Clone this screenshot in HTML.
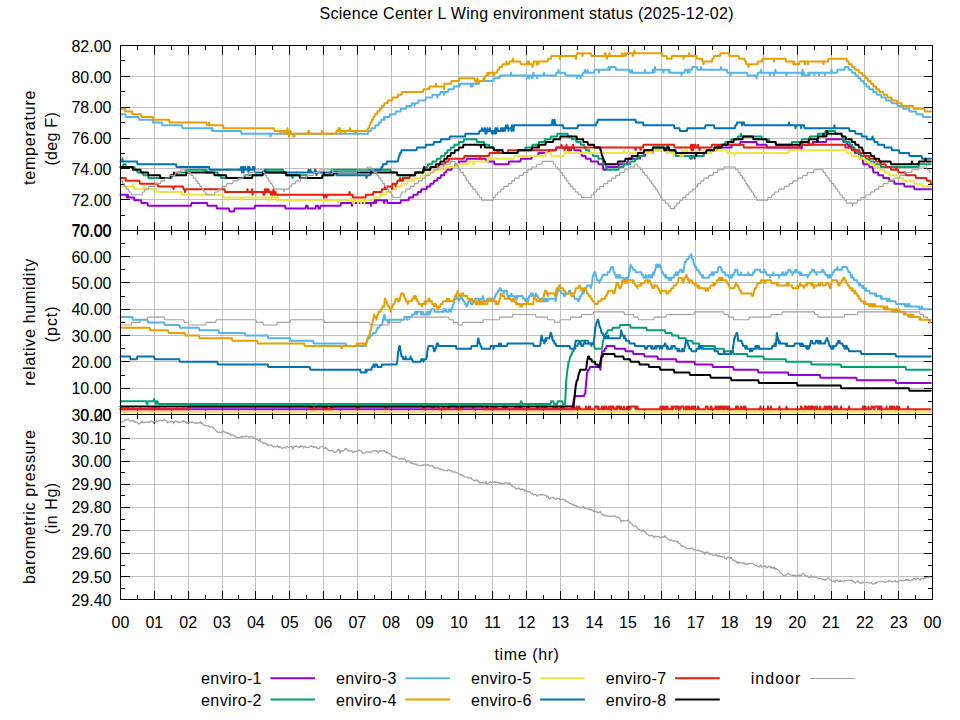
<!DOCTYPE html>
<html><head><meta charset="utf-8"><title>Science Center L Wing environment status</title>
<style>html,body{margin:0;padding:0;background:#fff;}svg{display:block;}</style></head>
<body>
<svg width="960" height="720" viewBox="0 0 960 720">
<rect width="960" height="720" fill="#ffffff"/>
<g shape-rendering="crispEdges" stroke="#bebebe" stroke-width="1" fill="none">
<line x1="154.5" y1="45.5" x2="154.5" y2="230.5"/>
<line x1="188.5" y1="45.5" x2="188.5" y2="230.5"/>
<line x1="222.5" y1="45.5" x2="222.5" y2="230.5"/>
<line x1="255.5" y1="45.5" x2="255.5" y2="230.5"/>
<line x1="289.5" y1="45.5" x2="289.5" y2="230.5"/>
<line x1="323.5" y1="45.5" x2="323.5" y2="230.5"/>
<line x1="357.5" y1="45.5" x2="357.5" y2="230.5"/>
<line x1="391.5" y1="45.5" x2="391.5" y2="230.5"/>
<line x1="425.5" y1="45.5" x2="425.5" y2="230.5"/>
<line x1="458.5" y1="45.5" x2="458.5" y2="230.5"/>
<line x1="492.5" y1="45.5" x2="492.5" y2="230.5"/>
<line x1="526.5" y1="45.5" x2="526.5" y2="230.5"/>
<line x1="560.5" y1="45.5" x2="560.5" y2="230.5"/>
<line x1="594.5" y1="45.5" x2="594.5" y2="230.5"/>
<line x1="628.5" y1="45.5" x2="628.5" y2="230.5"/>
<line x1="661.5" y1="45.5" x2="661.5" y2="230.5"/>
<line x1="695.5" y1="45.5" x2="695.5" y2="230.5"/>
<line x1="729.5" y1="45.5" x2="729.5" y2="230.5"/>
<line x1="763.5" y1="45.5" x2="763.5" y2="230.5"/>
<line x1="797.5" y1="45.5" x2="797.5" y2="230.5"/>
<line x1="831.5" y1="45.5" x2="831.5" y2="230.5"/>
<line x1="864.5" y1="45.5" x2="864.5" y2="230.5"/>
<line x1="898.5" y1="45.5" x2="898.5" y2="230.5"/>
<line x1="154.5" y1="230.5" x2="154.5" y2="414.5"/>
<line x1="188.5" y1="230.5" x2="188.5" y2="414.5"/>
<line x1="222.5" y1="230.5" x2="222.5" y2="414.5"/>
<line x1="255.5" y1="230.5" x2="255.5" y2="414.5"/>
<line x1="289.5" y1="230.5" x2="289.5" y2="414.5"/>
<line x1="323.5" y1="230.5" x2="323.5" y2="414.5"/>
<line x1="357.5" y1="230.5" x2="357.5" y2="414.5"/>
<line x1="391.5" y1="230.5" x2="391.5" y2="414.5"/>
<line x1="425.5" y1="230.5" x2="425.5" y2="414.5"/>
<line x1="458.5" y1="230.5" x2="458.5" y2="414.5"/>
<line x1="492.5" y1="230.5" x2="492.5" y2="414.5"/>
<line x1="526.5" y1="230.5" x2="526.5" y2="414.5"/>
<line x1="560.5" y1="230.5" x2="560.5" y2="414.5"/>
<line x1="594.5" y1="230.5" x2="594.5" y2="414.5"/>
<line x1="628.5" y1="230.5" x2="628.5" y2="414.5"/>
<line x1="661.5" y1="230.5" x2="661.5" y2="414.5"/>
<line x1="695.5" y1="230.5" x2="695.5" y2="414.5"/>
<line x1="729.5" y1="230.5" x2="729.5" y2="414.5"/>
<line x1="763.5" y1="230.5" x2="763.5" y2="414.5"/>
<line x1="797.5" y1="230.5" x2="797.5" y2="414.5"/>
<line x1="831.5" y1="230.5" x2="831.5" y2="414.5"/>
<line x1="864.5" y1="230.5" x2="864.5" y2="414.5"/>
<line x1="898.5" y1="230.5" x2="898.5" y2="414.5"/>
<line x1="154.5" y1="414.5" x2="154.5" y2="599.5"/>
<line x1="188.5" y1="414.5" x2="188.5" y2="599.5"/>
<line x1="222.5" y1="414.5" x2="222.5" y2="599.5"/>
<line x1="255.5" y1="414.5" x2="255.5" y2="599.5"/>
<line x1="289.5" y1="414.5" x2="289.5" y2="599.5"/>
<line x1="323.5" y1="414.5" x2="323.5" y2="599.5"/>
<line x1="357.5" y1="414.5" x2="357.5" y2="599.5"/>
<line x1="391.5" y1="414.5" x2="391.5" y2="599.5"/>
<line x1="425.5" y1="414.5" x2="425.5" y2="599.5"/>
<line x1="458.5" y1="414.5" x2="458.5" y2="599.5"/>
<line x1="492.5" y1="414.5" x2="492.5" y2="599.5"/>
<line x1="526.5" y1="414.5" x2="526.5" y2="599.5"/>
<line x1="560.5" y1="414.5" x2="560.5" y2="599.5"/>
<line x1="594.5" y1="414.5" x2="594.5" y2="599.5"/>
<line x1="628.5" y1="414.5" x2="628.5" y2="599.5"/>
<line x1="661.5" y1="414.5" x2="661.5" y2="599.5"/>
<line x1="695.5" y1="414.5" x2="695.5" y2="599.5"/>
<line x1="729.5" y1="414.5" x2="729.5" y2="599.5"/>
<line x1="763.5" y1="414.5" x2="763.5" y2="599.5"/>
<line x1="797.5" y1="414.5" x2="797.5" y2="599.5"/>
<line x1="831.5" y1="414.5" x2="831.5" y2="599.5"/>
<line x1="864.5" y1="414.5" x2="864.5" y2="599.5"/>
<line x1="898.5" y1="414.5" x2="898.5" y2="599.5"/>
<line x1="120.5" y1="199.5" x2="932.5" y2="199.5"/>
<line x1="120.5" y1="168.5" x2="932.5" y2="168.5"/>
<line x1="120.5" y1="138.5" x2="932.5" y2="138.5"/>
<line x1="120.5" y1="107.5" x2="932.5" y2="107.5"/>
<line x1="120.5" y1="76.5" x2="932.5" y2="76.5"/>
<line x1="120.5" y1="388.5" x2="932.5" y2="388.5"/>
<line x1="120.5" y1="361.5" x2="932.5" y2="361.5"/>
<line x1="120.5" y1="335.5" x2="932.5" y2="335.5"/>
<line x1="120.5" y1="309.5" x2="932.5" y2="309.5"/>
<line x1="120.5" y1="282.5" x2="932.5" y2="282.5"/>
<line x1="120.5" y1="256.5" x2="932.5" y2="256.5"/>
<line x1="120.5" y1="576.5" x2="932.5" y2="576.5"/>
<line x1="120.5" y1="553.5" x2="932.5" y2="553.5"/>
<line x1="120.5" y1="530.5" x2="932.5" y2="530.5"/>
<line x1="120.5" y1="507.5" x2="932.5" y2="507.5"/>
<line x1="120.5" y1="484.5" x2="932.5" y2="484.5"/>
<line x1="120.5" y1="461.5" x2="932.5" y2="461.5"/>
<line x1="120.5" y1="438.5" x2="932.5" y2="438.5"/>
</g>
<g shape-rendering="crispEdges" stroke="#000" stroke-width="1" fill="none">
<line x1="120.5" y1="230.5" x2="120.5" y2="221.5"/>
<line x1="120.5" y1="45.5" x2="120.5" y2="54.5"/>
<line x1="137.5" y1="230.5" x2="137.5" y2="226.0"/>
<line x1="137.5" y1="45.5" x2="137.5" y2="50.0"/>
<line x1="154.5" y1="230.5" x2="154.5" y2="221.5"/>
<line x1="154.5" y1="45.5" x2="154.5" y2="54.5"/>
<line x1="171.5" y1="230.5" x2="171.5" y2="226.0"/>
<line x1="171.5" y1="45.5" x2="171.5" y2="50.0"/>
<line x1="188.5" y1="230.5" x2="188.5" y2="221.5"/>
<line x1="188.5" y1="45.5" x2="188.5" y2="54.5"/>
<line x1="205.5" y1="230.5" x2="205.5" y2="226.0"/>
<line x1="205.5" y1="45.5" x2="205.5" y2="50.0"/>
<line x1="222.5" y1="230.5" x2="222.5" y2="221.5"/>
<line x1="222.5" y1="45.5" x2="222.5" y2="54.5"/>
<line x1="238.5" y1="230.5" x2="238.5" y2="226.0"/>
<line x1="238.5" y1="45.5" x2="238.5" y2="50.0"/>
<line x1="255.5" y1="230.5" x2="255.5" y2="221.5"/>
<line x1="255.5" y1="45.5" x2="255.5" y2="54.5"/>
<line x1="272.5" y1="230.5" x2="272.5" y2="226.0"/>
<line x1="272.5" y1="45.5" x2="272.5" y2="50.0"/>
<line x1="289.5" y1="230.5" x2="289.5" y2="221.5"/>
<line x1="289.5" y1="45.5" x2="289.5" y2="54.5"/>
<line x1="306.5" y1="230.5" x2="306.5" y2="226.0"/>
<line x1="306.5" y1="45.5" x2="306.5" y2="50.0"/>
<line x1="323.5" y1="230.5" x2="323.5" y2="221.5"/>
<line x1="323.5" y1="45.5" x2="323.5" y2="54.5"/>
<line x1="340.5" y1="230.5" x2="340.5" y2="226.0"/>
<line x1="340.5" y1="45.5" x2="340.5" y2="50.0"/>
<line x1="357.5" y1="230.5" x2="357.5" y2="221.5"/>
<line x1="357.5" y1="45.5" x2="357.5" y2="54.5"/>
<line x1="374.5" y1="230.5" x2="374.5" y2="226.0"/>
<line x1="374.5" y1="45.5" x2="374.5" y2="50.0"/>
<line x1="391.5" y1="230.5" x2="391.5" y2="221.5"/>
<line x1="391.5" y1="45.5" x2="391.5" y2="54.5"/>
<line x1="408.5" y1="230.5" x2="408.5" y2="226.0"/>
<line x1="408.5" y1="45.5" x2="408.5" y2="50.0"/>
<line x1="425.5" y1="230.5" x2="425.5" y2="221.5"/>
<line x1="425.5" y1="45.5" x2="425.5" y2="54.5"/>
<line x1="441.5" y1="230.5" x2="441.5" y2="226.0"/>
<line x1="441.5" y1="45.5" x2="441.5" y2="50.0"/>
<line x1="458.5" y1="230.5" x2="458.5" y2="221.5"/>
<line x1="458.5" y1="45.5" x2="458.5" y2="54.5"/>
<line x1="475.5" y1="230.5" x2="475.5" y2="226.0"/>
<line x1="475.5" y1="45.5" x2="475.5" y2="50.0"/>
<line x1="492.5" y1="230.5" x2="492.5" y2="221.5"/>
<line x1="492.5" y1="45.5" x2="492.5" y2="54.5"/>
<line x1="509.5" y1="230.5" x2="509.5" y2="226.0"/>
<line x1="509.5" y1="45.5" x2="509.5" y2="50.0"/>
<line x1="526.5" y1="230.5" x2="526.5" y2="221.5"/>
<line x1="526.5" y1="45.5" x2="526.5" y2="54.5"/>
<line x1="543.5" y1="230.5" x2="543.5" y2="226.0"/>
<line x1="543.5" y1="45.5" x2="543.5" y2="50.0"/>
<line x1="560.5" y1="230.5" x2="560.5" y2="221.5"/>
<line x1="560.5" y1="45.5" x2="560.5" y2="54.5"/>
<line x1="577.5" y1="230.5" x2="577.5" y2="226.0"/>
<line x1="577.5" y1="45.5" x2="577.5" y2="50.0"/>
<line x1="594.5" y1="230.5" x2="594.5" y2="221.5"/>
<line x1="594.5" y1="45.5" x2="594.5" y2="54.5"/>
<line x1="611.5" y1="230.5" x2="611.5" y2="226.0"/>
<line x1="611.5" y1="45.5" x2="611.5" y2="50.0"/>
<line x1="628.5" y1="230.5" x2="628.5" y2="221.5"/>
<line x1="628.5" y1="45.5" x2="628.5" y2="54.5"/>
<line x1="644.5" y1="230.5" x2="644.5" y2="226.0"/>
<line x1="644.5" y1="45.5" x2="644.5" y2="50.0"/>
<line x1="661.5" y1="230.5" x2="661.5" y2="221.5"/>
<line x1="661.5" y1="45.5" x2="661.5" y2="54.5"/>
<line x1="678.5" y1="230.5" x2="678.5" y2="226.0"/>
<line x1="678.5" y1="45.5" x2="678.5" y2="50.0"/>
<line x1="695.5" y1="230.5" x2="695.5" y2="221.5"/>
<line x1="695.5" y1="45.5" x2="695.5" y2="54.5"/>
<line x1="712.5" y1="230.5" x2="712.5" y2="226.0"/>
<line x1="712.5" y1="45.5" x2="712.5" y2="50.0"/>
<line x1="729.5" y1="230.5" x2="729.5" y2="221.5"/>
<line x1="729.5" y1="45.5" x2="729.5" y2="54.5"/>
<line x1="746.5" y1="230.5" x2="746.5" y2="226.0"/>
<line x1="746.5" y1="45.5" x2="746.5" y2="50.0"/>
<line x1="763.5" y1="230.5" x2="763.5" y2="221.5"/>
<line x1="763.5" y1="45.5" x2="763.5" y2="54.5"/>
<line x1="780.5" y1="230.5" x2="780.5" y2="226.0"/>
<line x1="780.5" y1="45.5" x2="780.5" y2="50.0"/>
<line x1="797.5" y1="230.5" x2="797.5" y2="221.5"/>
<line x1="797.5" y1="45.5" x2="797.5" y2="54.5"/>
<line x1="814.5" y1="230.5" x2="814.5" y2="226.0"/>
<line x1="814.5" y1="45.5" x2="814.5" y2="50.0"/>
<line x1="831.5" y1="230.5" x2="831.5" y2="221.5"/>
<line x1="831.5" y1="45.5" x2="831.5" y2="54.5"/>
<line x1="847.5" y1="230.5" x2="847.5" y2="226.0"/>
<line x1="847.5" y1="45.5" x2="847.5" y2="50.0"/>
<line x1="864.5" y1="230.5" x2="864.5" y2="221.5"/>
<line x1="864.5" y1="45.5" x2="864.5" y2="54.5"/>
<line x1="881.5" y1="230.5" x2="881.5" y2="226.0"/>
<line x1="881.5" y1="45.5" x2="881.5" y2="50.0"/>
<line x1="898.5" y1="230.5" x2="898.5" y2="221.5"/>
<line x1="898.5" y1="45.5" x2="898.5" y2="54.5"/>
<line x1="915.5" y1="230.5" x2="915.5" y2="226.0"/>
<line x1="915.5" y1="45.5" x2="915.5" y2="50.0"/>
<line x1="932.5" y1="230.5" x2="932.5" y2="221.5"/>
<line x1="932.5" y1="45.5" x2="932.5" y2="54.5"/>
<line x1="120.5" y1="230.5" x2="129.5" y2="230.5"/>
<line x1="932.5" y1="230.5" x2="923.5" y2="230.5"/>
<line x1="120.5" y1="199.5" x2="129.5" y2="199.5"/>
<line x1="932.5" y1="199.5" x2="923.5" y2="199.5"/>
<line x1="120.5" y1="168.5" x2="129.5" y2="168.5"/>
<line x1="932.5" y1="168.5" x2="923.5" y2="168.5"/>
<line x1="120.5" y1="138.5" x2="129.5" y2="138.5"/>
<line x1="932.5" y1="138.5" x2="923.5" y2="138.5"/>
<line x1="120.5" y1="107.5" x2="129.5" y2="107.5"/>
<line x1="932.5" y1="107.5" x2="923.5" y2="107.5"/>
<line x1="120.5" y1="76.5" x2="129.5" y2="76.5"/>
<line x1="932.5" y1="76.5" x2="923.5" y2="76.5"/>
<line x1="120.5" y1="45.5" x2="129.5" y2="45.5"/>
<line x1="932.5" y1="45.5" x2="923.5" y2="45.5"/>
<line x1="120.5" y1="215.5" x2="125.0" y2="215.5"/>
<line x1="932.5" y1="215.5" x2="928.0" y2="215.5"/>
<line x1="120.5" y1="184.5" x2="125.0" y2="184.5"/>
<line x1="932.5" y1="184.5" x2="928.0" y2="184.5"/>
<line x1="120.5" y1="153.5" x2="125.0" y2="153.5"/>
<line x1="932.5" y1="153.5" x2="928.0" y2="153.5"/>
<line x1="120.5" y1="122.5" x2="125.0" y2="122.5"/>
<line x1="932.5" y1="122.5" x2="928.0" y2="122.5"/>
<line x1="120.5" y1="91.5" x2="125.0" y2="91.5"/>
<line x1="932.5" y1="91.5" x2="928.0" y2="91.5"/>
<line x1="120.5" y1="60.5" x2="125.0" y2="60.5"/>
<line x1="932.5" y1="60.5" x2="928.0" y2="60.5"/>
<line x1="120.5" y1="414.5" x2="120.5" y2="405.5"/>
<line x1="120.5" y1="230.5" x2="120.5" y2="239.5"/>
<line x1="137.5" y1="414.5" x2="137.5" y2="410.0"/>
<line x1="137.5" y1="230.5" x2="137.5" y2="235.0"/>
<line x1="154.5" y1="414.5" x2="154.5" y2="405.5"/>
<line x1="154.5" y1="230.5" x2="154.5" y2="239.5"/>
<line x1="171.5" y1="414.5" x2="171.5" y2="410.0"/>
<line x1="171.5" y1="230.5" x2="171.5" y2="235.0"/>
<line x1="188.5" y1="414.5" x2="188.5" y2="405.5"/>
<line x1="188.5" y1="230.5" x2="188.5" y2="239.5"/>
<line x1="205.5" y1="414.5" x2="205.5" y2="410.0"/>
<line x1="205.5" y1="230.5" x2="205.5" y2="235.0"/>
<line x1="222.5" y1="414.5" x2="222.5" y2="405.5"/>
<line x1="222.5" y1="230.5" x2="222.5" y2="239.5"/>
<line x1="238.5" y1="414.5" x2="238.5" y2="410.0"/>
<line x1="238.5" y1="230.5" x2="238.5" y2="235.0"/>
<line x1="255.5" y1="414.5" x2="255.5" y2="405.5"/>
<line x1="255.5" y1="230.5" x2="255.5" y2="239.5"/>
<line x1="272.5" y1="414.5" x2="272.5" y2="410.0"/>
<line x1="272.5" y1="230.5" x2="272.5" y2="235.0"/>
<line x1="289.5" y1="414.5" x2="289.5" y2="405.5"/>
<line x1="289.5" y1="230.5" x2="289.5" y2="239.5"/>
<line x1="306.5" y1="414.5" x2="306.5" y2="410.0"/>
<line x1="306.5" y1="230.5" x2="306.5" y2="235.0"/>
<line x1="323.5" y1="414.5" x2="323.5" y2="405.5"/>
<line x1="323.5" y1="230.5" x2="323.5" y2="239.5"/>
<line x1="340.5" y1="414.5" x2="340.5" y2="410.0"/>
<line x1="340.5" y1="230.5" x2="340.5" y2="235.0"/>
<line x1="357.5" y1="414.5" x2="357.5" y2="405.5"/>
<line x1="357.5" y1="230.5" x2="357.5" y2="239.5"/>
<line x1="374.5" y1="414.5" x2="374.5" y2="410.0"/>
<line x1="374.5" y1="230.5" x2="374.5" y2="235.0"/>
<line x1="391.5" y1="414.5" x2="391.5" y2="405.5"/>
<line x1="391.5" y1="230.5" x2="391.5" y2="239.5"/>
<line x1="408.5" y1="414.5" x2="408.5" y2="410.0"/>
<line x1="408.5" y1="230.5" x2="408.5" y2="235.0"/>
<line x1="425.5" y1="414.5" x2="425.5" y2="405.5"/>
<line x1="425.5" y1="230.5" x2="425.5" y2="239.5"/>
<line x1="441.5" y1="414.5" x2="441.5" y2="410.0"/>
<line x1="441.5" y1="230.5" x2="441.5" y2="235.0"/>
<line x1="458.5" y1="414.5" x2="458.5" y2="405.5"/>
<line x1="458.5" y1="230.5" x2="458.5" y2="239.5"/>
<line x1="475.5" y1="414.5" x2="475.5" y2="410.0"/>
<line x1="475.5" y1="230.5" x2="475.5" y2="235.0"/>
<line x1="492.5" y1="414.5" x2="492.5" y2="405.5"/>
<line x1="492.5" y1="230.5" x2="492.5" y2="239.5"/>
<line x1="509.5" y1="414.5" x2="509.5" y2="410.0"/>
<line x1="509.5" y1="230.5" x2="509.5" y2="235.0"/>
<line x1="526.5" y1="414.5" x2="526.5" y2="405.5"/>
<line x1="526.5" y1="230.5" x2="526.5" y2="239.5"/>
<line x1="543.5" y1="414.5" x2="543.5" y2="410.0"/>
<line x1="543.5" y1="230.5" x2="543.5" y2="235.0"/>
<line x1="560.5" y1="414.5" x2="560.5" y2="405.5"/>
<line x1="560.5" y1="230.5" x2="560.5" y2="239.5"/>
<line x1="577.5" y1="414.5" x2="577.5" y2="410.0"/>
<line x1="577.5" y1="230.5" x2="577.5" y2="235.0"/>
<line x1="594.5" y1="414.5" x2="594.5" y2="405.5"/>
<line x1="594.5" y1="230.5" x2="594.5" y2="239.5"/>
<line x1="611.5" y1="414.5" x2="611.5" y2="410.0"/>
<line x1="611.5" y1="230.5" x2="611.5" y2="235.0"/>
<line x1="628.5" y1="414.5" x2="628.5" y2="405.5"/>
<line x1="628.5" y1="230.5" x2="628.5" y2="239.5"/>
<line x1="644.5" y1="414.5" x2="644.5" y2="410.0"/>
<line x1="644.5" y1="230.5" x2="644.5" y2="235.0"/>
<line x1="661.5" y1="414.5" x2="661.5" y2="405.5"/>
<line x1="661.5" y1="230.5" x2="661.5" y2="239.5"/>
<line x1="678.5" y1="414.5" x2="678.5" y2="410.0"/>
<line x1="678.5" y1="230.5" x2="678.5" y2="235.0"/>
<line x1="695.5" y1="414.5" x2="695.5" y2="405.5"/>
<line x1="695.5" y1="230.5" x2="695.5" y2="239.5"/>
<line x1="712.5" y1="414.5" x2="712.5" y2="410.0"/>
<line x1="712.5" y1="230.5" x2="712.5" y2="235.0"/>
<line x1="729.5" y1="414.5" x2="729.5" y2="405.5"/>
<line x1="729.5" y1="230.5" x2="729.5" y2="239.5"/>
<line x1="746.5" y1="414.5" x2="746.5" y2="410.0"/>
<line x1="746.5" y1="230.5" x2="746.5" y2="235.0"/>
<line x1="763.5" y1="414.5" x2="763.5" y2="405.5"/>
<line x1="763.5" y1="230.5" x2="763.5" y2="239.5"/>
<line x1="780.5" y1="414.5" x2="780.5" y2="410.0"/>
<line x1="780.5" y1="230.5" x2="780.5" y2="235.0"/>
<line x1="797.5" y1="414.5" x2="797.5" y2="405.5"/>
<line x1="797.5" y1="230.5" x2="797.5" y2="239.5"/>
<line x1="814.5" y1="414.5" x2="814.5" y2="410.0"/>
<line x1="814.5" y1="230.5" x2="814.5" y2="235.0"/>
<line x1="831.5" y1="414.5" x2="831.5" y2="405.5"/>
<line x1="831.5" y1="230.5" x2="831.5" y2="239.5"/>
<line x1="847.5" y1="414.5" x2="847.5" y2="410.0"/>
<line x1="847.5" y1="230.5" x2="847.5" y2="235.0"/>
<line x1="864.5" y1="414.5" x2="864.5" y2="405.5"/>
<line x1="864.5" y1="230.5" x2="864.5" y2="239.5"/>
<line x1="881.5" y1="414.5" x2="881.5" y2="410.0"/>
<line x1="881.5" y1="230.5" x2="881.5" y2="235.0"/>
<line x1="898.5" y1="414.5" x2="898.5" y2="405.5"/>
<line x1="898.5" y1="230.5" x2="898.5" y2="239.5"/>
<line x1="915.5" y1="414.5" x2="915.5" y2="410.0"/>
<line x1="915.5" y1="230.5" x2="915.5" y2="235.0"/>
<line x1="932.5" y1="414.5" x2="932.5" y2="405.5"/>
<line x1="932.5" y1="230.5" x2="932.5" y2="239.5"/>
<line x1="120.5" y1="414.5" x2="129.5" y2="414.5"/>
<line x1="932.5" y1="414.5" x2="923.5" y2="414.5"/>
<line x1="120.5" y1="388.5" x2="129.5" y2="388.5"/>
<line x1="932.5" y1="388.5" x2="923.5" y2="388.5"/>
<line x1="120.5" y1="361.5" x2="129.5" y2="361.5"/>
<line x1="932.5" y1="361.5" x2="923.5" y2="361.5"/>
<line x1="120.5" y1="335.5" x2="129.5" y2="335.5"/>
<line x1="932.5" y1="335.5" x2="923.5" y2="335.5"/>
<line x1="120.5" y1="309.5" x2="129.5" y2="309.5"/>
<line x1="932.5" y1="309.5" x2="923.5" y2="309.5"/>
<line x1="120.5" y1="282.5" x2="129.5" y2="282.5"/>
<line x1="932.5" y1="282.5" x2="923.5" y2="282.5"/>
<line x1="120.5" y1="256.5" x2="129.5" y2="256.5"/>
<line x1="932.5" y1="256.5" x2="923.5" y2="256.5"/>
<line x1="120.5" y1="230.5" x2="129.5" y2="230.5"/>
<line x1="932.5" y1="230.5" x2="923.5" y2="230.5"/>
<line x1="120.5" y1="401.5" x2="125.0" y2="401.5"/>
<line x1="932.5" y1="401.5" x2="928.0" y2="401.5"/>
<line x1="120.5" y1="375.5" x2="125.0" y2="375.5"/>
<line x1="932.5" y1="375.5" x2="928.0" y2="375.5"/>
<line x1="120.5" y1="348.5" x2="125.0" y2="348.5"/>
<line x1="932.5" y1="348.5" x2="928.0" y2="348.5"/>
<line x1="120.5" y1="322.5" x2="125.0" y2="322.5"/>
<line x1="932.5" y1="322.5" x2="928.0" y2="322.5"/>
<line x1="120.5" y1="296.5" x2="125.0" y2="296.5"/>
<line x1="932.5" y1="296.5" x2="928.0" y2="296.5"/>
<line x1="120.5" y1="269.5" x2="125.0" y2="269.5"/>
<line x1="932.5" y1="269.5" x2="928.0" y2="269.5"/>
<line x1="120.5" y1="243.5" x2="125.0" y2="243.5"/>
<line x1="932.5" y1="243.5" x2="928.0" y2="243.5"/>
<line x1="120.5" y1="599.5" x2="120.5" y2="590.5"/>
<line x1="120.5" y1="414.5" x2="120.5" y2="423.5"/>
<line x1="137.5" y1="599.5" x2="137.5" y2="595.0"/>
<line x1="137.5" y1="414.5" x2="137.5" y2="419.0"/>
<line x1="154.5" y1="599.5" x2="154.5" y2="590.5"/>
<line x1="154.5" y1="414.5" x2="154.5" y2="423.5"/>
<line x1="171.5" y1="599.5" x2="171.5" y2="595.0"/>
<line x1="171.5" y1="414.5" x2="171.5" y2="419.0"/>
<line x1="188.5" y1="599.5" x2="188.5" y2="590.5"/>
<line x1="188.5" y1="414.5" x2="188.5" y2="423.5"/>
<line x1="205.5" y1="599.5" x2="205.5" y2="595.0"/>
<line x1="205.5" y1="414.5" x2="205.5" y2="419.0"/>
<line x1="222.5" y1="599.5" x2="222.5" y2="590.5"/>
<line x1="222.5" y1="414.5" x2="222.5" y2="423.5"/>
<line x1="238.5" y1="599.5" x2="238.5" y2="595.0"/>
<line x1="238.5" y1="414.5" x2="238.5" y2="419.0"/>
<line x1="255.5" y1="599.5" x2="255.5" y2="590.5"/>
<line x1="255.5" y1="414.5" x2="255.5" y2="423.5"/>
<line x1="272.5" y1="599.5" x2="272.5" y2="595.0"/>
<line x1="272.5" y1="414.5" x2="272.5" y2="419.0"/>
<line x1="289.5" y1="599.5" x2="289.5" y2="590.5"/>
<line x1="289.5" y1="414.5" x2="289.5" y2="423.5"/>
<line x1="306.5" y1="599.5" x2="306.5" y2="595.0"/>
<line x1="306.5" y1="414.5" x2="306.5" y2="419.0"/>
<line x1="323.5" y1="599.5" x2="323.5" y2="590.5"/>
<line x1="323.5" y1="414.5" x2="323.5" y2="423.5"/>
<line x1="340.5" y1="599.5" x2="340.5" y2="595.0"/>
<line x1="340.5" y1="414.5" x2="340.5" y2="419.0"/>
<line x1="357.5" y1="599.5" x2="357.5" y2="590.5"/>
<line x1="357.5" y1="414.5" x2="357.5" y2="423.5"/>
<line x1="374.5" y1="599.5" x2="374.5" y2="595.0"/>
<line x1="374.5" y1="414.5" x2="374.5" y2="419.0"/>
<line x1="391.5" y1="599.5" x2="391.5" y2="590.5"/>
<line x1="391.5" y1="414.5" x2="391.5" y2="423.5"/>
<line x1="408.5" y1="599.5" x2="408.5" y2="595.0"/>
<line x1="408.5" y1="414.5" x2="408.5" y2="419.0"/>
<line x1="425.5" y1="599.5" x2="425.5" y2="590.5"/>
<line x1="425.5" y1="414.5" x2="425.5" y2="423.5"/>
<line x1="441.5" y1="599.5" x2="441.5" y2="595.0"/>
<line x1="441.5" y1="414.5" x2="441.5" y2="419.0"/>
<line x1="458.5" y1="599.5" x2="458.5" y2="590.5"/>
<line x1="458.5" y1="414.5" x2="458.5" y2="423.5"/>
<line x1="475.5" y1="599.5" x2="475.5" y2="595.0"/>
<line x1="475.5" y1="414.5" x2="475.5" y2="419.0"/>
<line x1="492.5" y1="599.5" x2="492.5" y2="590.5"/>
<line x1="492.5" y1="414.5" x2="492.5" y2="423.5"/>
<line x1="509.5" y1="599.5" x2="509.5" y2="595.0"/>
<line x1="509.5" y1="414.5" x2="509.5" y2="419.0"/>
<line x1="526.5" y1="599.5" x2="526.5" y2="590.5"/>
<line x1="526.5" y1="414.5" x2="526.5" y2="423.5"/>
<line x1="543.5" y1="599.5" x2="543.5" y2="595.0"/>
<line x1="543.5" y1="414.5" x2="543.5" y2="419.0"/>
<line x1="560.5" y1="599.5" x2="560.5" y2="590.5"/>
<line x1="560.5" y1="414.5" x2="560.5" y2="423.5"/>
<line x1="577.5" y1="599.5" x2="577.5" y2="595.0"/>
<line x1="577.5" y1="414.5" x2="577.5" y2="419.0"/>
<line x1="594.5" y1="599.5" x2="594.5" y2="590.5"/>
<line x1="594.5" y1="414.5" x2="594.5" y2="423.5"/>
<line x1="611.5" y1="599.5" x2="611.5" y2="595.0"/>
<line x1="611.5" y1="414.5" x2="611.5" y2="419.0"/>
<line x1="628.5" y1="599.5" x2="628.5" y2="590.5"/>
<line x1="628.5" y1="414.5" x2="628.5" y2="423.5"/>
<line x1="644.5" y1="599.5" x2="644.5" y2="595.0"/>
<line x1="644.5" y1="414.5" x2="644.5" y2="419.0"/>
<line x1="661.5" y1="599.5" x2="661.5" y2="590.5"/>
<line x1="661.5" y1="414.5" x2="661.5" y2="423.5"/>
<line x1="678.5" y1="599.5" x2="678.5" y2="595.0"/>
<line x1="678.5" y1="414.5" x2="678.5" y2="419.0"/>
<line x1="695.5" y1="599.5" x2="695.5" y2="590.5"/>
<line x1="695.5" y1="414.5" x2="695.5" y2="423.5"/>
<line x1="712.5" y1="599.5" x2="712.5" y2="595.0"/>
<line x1="712.5" y1="414.5" x2="712.5" y2="419.0"/>
<line x1="729.5" y1="599.5" x2="729.5" y2="590.5"/>
<line x1="729.5" y1="414.5" x2="729.5" y2="423.5"/>
<line x1="746.5" y1="599.5" x2="746.5" y2="595.0"/>
<line x1="746.5" y1="414.5" x2="746.5" y2="419.0"/>
<line x1="763.5" y1="599.5" x2="763.5" y2="590.5"/>
<line x1="763.5" y1="414.5" x2="763.5" y2="423.5"/>
<line x1="780.5" y1="599.5" x2="780.5" y2="595.0"/>
<line x1="780.5" y1="414.5" x2="780.5" y2="419.0"/>
<line x1="797.5" y1="599.5" x2="797.5" y2="590.5"/>
<line x1="797.5" y1="414.5" x2="797.5" y2="423.5"/>
<line x1="814.5" y1="599.5" x2="814.5" y2="595.0"/>
<line x1="814.5" y1="414.5" x2="814.5" y2="419.0"/>
<line x1="831.5" y1="599.5" x2="831.5" y2="590.5"/>
<line x1="831.5" y1="414.5" x2="831.5" y2="423.5"/>
<line x1="847.5" y1="599.5" x2="847.5" y2="595.0"/>
<line x1="847.5" y1="414.5" x2="847.5" y2="419.0"/>
<line x1="864.5" y1="599.5" x2="864.5" y2="590.5"/>
<line x1="864.5" y1="414.5" x2="864.5" y2="423.5"/>
<line x1="881.5" y1="599.5" x2="881.5" y2="595.0"/>
<line x1="881.5" y1="414.5" x2="881.5" y2="419.0"/>
<line x1="898.5" y1="599.5" x2="898.5" y2="590.5"/>
<line x1="898.5" y1="414.5" x2="898.5" y2="423.5"/>
<line x1="915.5" y1="599.5" x2="915.5" y2="595.0"/>
<line x1="915.5" y1="414.5" x2="915.5" y2="419.0"/>
<line x1="932.5" y1="599.5" x2="932.5" y2="590.5"/>
<line x1="932.5" y1="414.5" x2="932.5" y2="423.5"/>
<line x1="120.5" y1="599.5" x2="129.5" y2="599.5"/>
<line x1="932.5" y1="599.5" x2="923.5" y2="599.5"/>
<line x1="120.5" y1="576.5" x2="129.5" y2="576.5"/>
<line x1="932.5" y1="576.5" x2="923.5" y2="576.5"/>
<line x1="120.5" y1="553.5" x2="129.5" y2="553.5"/>
<line x1="932.5" y1="553.5" x2="923.5" y2="553.5"/>
<line x1="120.5" y1="530.5" x2="129.5" y2="530.5"/>
<line x1="932.5" y1="530.5" x2="923.5" y2="530.5"/>
<line x1="120.5" y1="507.5" x2="129.5" y2="507.5"/>
<line x1="932.5" y1="507.5" x2="923.5" y2="507.5"/>
<line x1="120.5" y1="484.5" x2="129.5" y2="484.5"/>
<line x1="932.5" y1="484.5" x2="923.5" y2="484.5"/>
<line x1="120.5" y1="461.5" x2="129.5" y2="461.5"/>
<line x1="932.5" y1="461.5" x2="923.5" y2="461.5"/>
<line x1="120.5" y1="438.5" x2="129.5" y2="438.5"/>
<line x1="932.5" y1="438.5" x2="923.5" y2="438.5"/>
<line x1="120.5" y1="414.5" x2="129.5" y2="414.5"/>
<line x1="932.5" y1="414.5" x2="923.5" y2="414.5"/>
<line x1="120.5" y1="588.5" x2="125.0" y2="588.5"/>
<line x1="932.5" y1="588.5" x2="928.0" y2="588.5"/>
<line x1="120.5" y1="565.5" x2="125.0" y2="565.5"/>
<line x1="932.5" y1="565.5" x2="928.0" y2="565.5"/>
<line x1="120.5" y1="542.5" x2="125.0" y2="542.5"/>
<line x1="932.5" y1="542.5" x2="928.0" y2="542.5"/>
<line x1="120.5" y1="519.5" x2="125.0" y2="519.5"/>
<line x1="932.5" y1="519.5" x2="928.0" y2="519.5"/>
<line x1="120.5" y1="495.5" x2="125.0" y2="495.5"/>
<line x1="932.5" y1="495.5" x2="928.0" y2="495.5"/>
<line x1="120.5" y1="472.5" x2="125.0" y2="472.5"/>
<line x1="932.5" y1="472.5" x2="928.0" y2="472.5"/>
<line x1="120.5" y1="449.5" x2="125.0" y2="449.5"/>
<line x1="932.5" y1="449.5" x2="928.0" y2="449.5"/>
<line x1="120.5" y1="426.5" x2="125.0" y2="426.5"/>
<line x1="932.5" y1="426.5" x2="928.0" y2="426.5"/>
</g>
<clipPath id="c1"><rect x="120.5" y="45.5" width="812.0" height="185.0"/></clipPath>
<clipPath id="c2"><rect x="120.5" y="229.5" width="812.0" height="186.0"/></clipPath>
<clipPath id="c3"><rect x="120.5" y="414.5" width="812.0" height="185.0"/></clipPath>
<g>
<path d="M120.50,194.73 L126.50,194.73 L127.00,197.51 L127.50,194.73 L128.00,194.73 L128.50,197.51 L134.00,197.51 L134.50,200.28 L141.00,200.28 L141.50,203.06 L147.50,203.06 L148.00,205.83 L191.00,205.83 L191.50,203.06 L207.00,203.06 L207.50,205.83 L216.50,205.83 L217.00,208.61 L229.00,208.61 L229.50,211.38 L234.00,211.38 L234.50,208.61 L254.50,208.61 L255.00,205.83 L285.00,205.83 L285.50,208.61 L305.50,208.61 L306.00,205.83 L307.50,205.83 L308.00,208.61 L315.50,208.61 L316.00,205.83 L318.00,205.83 L318.50,208.61 L320.00,208.61 L320.50,205.83 L340.50,205.83 L341.00,203.06 L351.50,203.06 L352.00,205.83 L352.50,203.06 L370.50,203.06 L371.00,205.83 L371.50,203.06 L374.00,203.06 L374.50,200.28 L375.50,200.28 L376.00,203.06 L376.50,200.28 L383.50,200.28 L384.00,203.06 L384.50,200.28 L387.00,200.28 L387.50,203.06 L400.50,203.06 L401.00,200.28 L408.50,200.28 L409.00,197.51 L413.00,197.51 L413.50,194.73 L417.50,194.73 L418.00,191.96 L421.00,191.96 L421.50,189.18 L426.50,189.18 L427.00,186.41 L430.00,186.41 L430.50,183.63 L433.50,183.63 L434.00,180.86 L437.00,180.86 L437.50,178.08 L440.50,178.08 L441.00,175.31 L444.00,175.31 L444.50,172.53 L446.00,172.53 L446.50,169.76 L451.50,169.76 L452.00,166.98 L455.00,166.98 L455.50,164.21 L458.50,164.21 L459.00,161.43 L466.50,161.43 L467.00,158.66 L485.50,158.66 L486.00,161.43 L494.00,161.43 L494.50,164.21 L508.50,164.21 L509.00,161.43 L520.50,161.43 L521.00,158.66 L531.50,158.66 L532.00,155.88 L538.00,155.88 L538.50,153.11 L548.50,153.11 L549.00,150.33 L556.00,150.33 L556.50,147.56 L574.00,147.56 L574.50,150.33 L580.50,150.33 L581.00,153.11 L581.50,153.11 L582.00,155.88 L585.50,155.88 L586.00,158.66 L590.50,158.66 L591.00,161.43 L598.00,161.43 L598.50,164.21 L602.50,164.21 L603.50,169.76 L606.00,169.76 L606.50,166.98 L618.50,166.98 L619.00,164.21 L627.00,164.21 L627.50,161.43 L628.00,161.43 L628.50,158.66 L637.50,158.66 L638.00,155.88 L639.50,155.88 L640.00,158.66 L640.50,155.88 L645.00,155.88 L645.50,153.11 L652.50,153.11 L653.00,150.33 L674.50,150.33 L675.00,153.11 L675.50,153.11 L676.00,155.88 L694.00,155.88 L694.50,158.66 L695.00,155.88 L703.50,155.88 L704.00,153.11 L711.00,153.11 L711.50,150.33 L717.50,150.33 L718.00,147.56 L731.50,147.56 L732.00,144.78 L740.00,144.78 L740.50,142.01 L756.50,142.01 L757.00,144.78 L766.50,144.78 L767.00,147.56 L801.00,147.56 L801.50,150.33 L802.00,144.78 L812.50,144.78 L813.00,142.01 L826.00,142.01 L826.50,139.23 L843.00,139.23 L843.50,142.01 L846.50,142.01 L847.00,144.78 L848.50,144.78 L849.00,147.56 L849.50,144.78 L850.00,144.78 L850.50,147.56 L853.50,147.56 L854.00,150.33 L854.50,150.33 L855.00,153.11 L858.50,153.11 L859.00,155.88 L859.50,155.88 L860.00,158.66 L862.50,158.66 L863.50,164.21 L869.00,164.21 L869.50,166.98 L872.50,166.98 L873.50,172.53 L878.00,172.53 L878.50,175.31 L883.00,175.31 L883.50,178.08 L889.00,178.08 L889.50,180.86 L894.00,180.86 L894.50,183.63 L904.00,183.63 L904.50,186.41 L914.00,186.41 L914.50,189.18 L930.80,189.18" fill="none" stroke="#9400d3" stroke-width="2.0" stroke-linejoin="round" stroke-linecap="round"/>
<path d="M120.50,166.98 L123.00,166.98 L123.50,164.21 L125.50,164.21 L126.00,166.98 L134.50,166.98 L135.00,169.76 L137.00,169.76 L137.50,172.53 L143.00,172.53 L143.50,175.31 L148.00,175.31 L148.50,178.08 L171.50,178.08 L172.00,175.31 L176.50,175.31 L177.00,172.53 L185.50,172.53 L186.00,169.76 L205.00,169.76 L205.50,172.53 L206.00,169.76 L206.50,169.76 L207.00,172.53 L217.50,172.53 L218.00,175.31 L220.50,175.31 L221.00,178.08 L244.50,178.08 L245.00,175.31 L262.50,175.31 L263.00,172.53 L264.00,172.53 L264.50,169.76 L283.00,169.76 L283.50,172.53 L285.50,172.53 L286.00,175.31 L292.00,175.31 L292.50,178.08 L293.00,175.31 L307.00,175.31 L307.50,178.08 L322.00,178.08 L322.50,175.31 L330.00,175.31 L330.50,172.53 L331.00,172.53 L331.50,169.76 L390.50,169.76 L391.00,172.53 L397.00,172.53 L397.50,175.31 L415.00,175.31 L415.50,172.53 L423.50,172.53 L424.00,169.76 L425.00,169.76 L425.50,166.98 L427.50,166.98 L428.00,164.21 L432.00,164.21 L432.50,161.43 L436.50,161.43 L437.00,158.66 L440.50,158.66 L441.00,155.88 L444.50,155.88 L445.00,153.11 L447.00,153.11 L447.50,150.33 L450.50,150.33 L451.00,147.56 L454.00,147.56 L454.50,144.78 L458.50,144.78 L459.00,142.01 L463.50,142.01 L464.00,139.23 L476.50,139.23 L477.00,142.01 L484.00,142.01 L484.50,144.78 L489.00,144.78 L489.50,147.56 L493.50,147.56 L494.00,150.33 L502.50,150.33 L503.00,153.11 L517.50,153.11 L518.00,150.33 L525.00,150.33 L525.50,147.56 L532.00,147.56 L532.50,144.78 L538.50,144.78 L539.00,142.01 L544.50,142.01 L545.00,139.23 L550.50,139.23 L551.00,136.46 L557.00,136.46 L557.50,133.68 L567.50,133.68 L568.00,136.46 L571.50,136.46 L572.00,139.23 L576.00,139.23 L576.50,142.01 L580.50,142.01 L581.00,144.78 L584.00,144.78 L584.50,147.56 L585.50,147.56 L586.00,150.33 L589.00,150.33 L589.50,153.11 L592.50,153.11 L593.00,155.88 L598.00,155.88 L598.50,158.66 L602.50,158.66 L603.50,164.21 L606.00,164.21 L607.00,169.76 L618.50,169.76 L619.00,166.98 L623.50,166.98 L624.00,164.21 L630.00,164.21 L630.50,161.43 L635.00,161.43 L635.50,158.66 L638.50,158.66 L639.00,155.88 L643.50,155.88 L644.50,150.33 L652.50,150.33 L653.00,147.56 L664.00,147.56 L664.50,150.33 L666.00,150.33 L666.50,147.56 L667.50,147.56 L668.00,144.78 L669.00,150.33 L674.50,150.33 L675.00,153.11 L675.50,153.11 L676.00,155.88 L689.50,155.88 L690.00,158.66 L692.00,158.66 L692.50,155.88 L703.50,155.88 L704.00,153.11 L706.00,153.11 L706.50,150.33 L714.00,150.33 L714.50,147.56 L721.50,147.56 L722.00,144.78 L725.00,144.78 L725.50,142.01 L731.00,142.01 L731.50,139.23 L737.50,139.23 L738.00,136.46 L740.50,136.46 L741.00,133.68 L741.50,136.46 L761.50,136.46 L762.00,139.23 L766.50,139.23 L767.00,142.01 L768.50,142.01 L769.00,139.23 L769.50,142.01 L775.50,142.01 L776.00,144.78 L791.50,144.78 L792.00,142.01 L801.50,142.01 L802.00,139.23 L809.50,139.23 L810.00,136.46 L817.50,136.46 L818.00,133.68 L825.00,133.68 L825.50,130.91 L827.50,130.91 L828.00,133.68 L828.50,130.91 L835.00,130.91 L835.50,133.68 L841.50,133.68 L842.00,136.46 L842.50,136.46 L843.00,139.23 L844.50,139.23 L845.00,142.01 L849.50,142.01 L850.00,144.78 L852.00,144.78 L852.50,147.56 L854.50,147.56 L855.00,150.33 L856.50,150.33 L857.00,153.11 L859.00,153.11 L859.50,150.33 L860.00,153.11 L860.50,153.11 L861.00,155.88 L865.00,155.88 L865.50,158.66 L869.00,158.66 L869.50,161.43 L874.00,161.43 L874.50,164.21 L880.50,164.21 L881.00,166.98 L918.50,166.98 L919.00,164.21 L930.80,164.21" fill="none" stroke="#009e73" stroke-width="2.0" stroke-linejoin="round" stroke-linecap="round"/>
<path d="M120.50,114.26 L125.50,114.26 L126.00,117.03 L138.50,117.03 L139.00,119.81 L152.50,119.81 L153.00,122.58 L162.00,122.58 L162.50,125.36 L182.00,125.36 L182.50,128.13 L211.50,128.13 L212.00,130.91 L212.50,128.13 L213.00,130.91 L241.00,130.91 L241.50,133.68 L270.00,133.68 L270.50,136.46 L271.00,133.68 L368.00,133.68 L368.50,130.91 L371.00,130.91 L371.50,128.13 L375.00,128.13 L375.50,125.36 L378.50,125.36 L379.00,122.58 L381.00,122.58 L381.50,119.81 L383.50,119.81 L384.00,117.03 L384.50,119.81 L385.00,117.03 L389.50,117.03 L390.00,114.26 L395.50,114.26 L396.00,111.48 L400.50,111.48 L401.00,108.71 L406.00,108.71 L406.50,105.93 L411.50,105.93 L412.00,103.16 L414.00,103.16 L414.50,105.93 L415.00,103.16 L418.00,103.16 L418.50,100.38 L425.50,100.38 L426.00,97.61 L432.00,97.61 L432.50,94.83 L437.00,94.83 L437.50,97.61 L438.00,94.83 L440.00,94.83 L440.50,92.06 L443.50,92.06 L444.00,94.83 L444.50,92.06 L448.00,92.06 L448.50,89.28 L453.50,89.28 L454.00,86.51 L458.50,86.51 L459.00,83.73 L459.50,86.51 L460.00,83.73 L470.50,83.73 L471.00,86.51 L471.50,83.73 L472.00,83.73 L472.50,86.51 L473.00,83.73 L479.00,83.73 L479.50,80.96 L493.50,80.96 L494.00,78.18 L499.50,78.18 L500.00,75.41 L510.50,75.41 L511.00,72.63 L511.50,75.41 L526.50,75.41 L527.00,78.18 L527.50,75.41 L528.50,75.41 L529.00,78.18 L529.50,75.41 L531.50,75.41 L532.00,78.18 L532.50,78.18 L533.50,72.63 L534.00,75.41 L536.50,75.41 L537.00,78.18 L537.50,75.41 L543.50,75.41 L544.00,72.63 L544.50,75.41 L556.00,75.41 L556.50,72.63 L558.00,72.63 L558.50,69.86 L559.00,72.63 L565.00,72.63 L565.50,75.41 L576.50,75.41 L577.00,78.18 L577.50,75.41 L580.00,75.41 L580.50,78.18 L581.00,75.41 L582.50,75.41 L583.00,72.63 L584.50,72.63 L585.00,69.86 L585.50,72.63 L587.00,72.63 L587.50,69.86 L588.00,72.63 L594.00,72.63 L594.50,69.86 L598.50,69.86 L599.00,72.63 L599.50,69.86 L608.00,69.86 L608.50,67.08 L609.00,69.86 L610.00,69.86 L610.50,67.08 L615.50,67.08 L616.00,69.86 L629.50,69.86 L630.00,72.63 L631.50,72.63 L632.00,69.86 L632.50,72.63 L644.50,72.63 L645.00,69.86 L645.50,72.63 L652.50,72.63 L653.00,69.86 L654.00,69.86 L654.50,72.63 L655.00,67.08 L655.50,69.86 L663.00,69.86 L663.50,72.63 L664.00,69.86 L668.50,69.86 L669.00,72.63 L669.50,69.86 L670.00,72.63 L681.00,72.63 L681.50,75.41 L682.00,72.63 L684.50,72.63 L685.00,69.86 L687.00,69.86 L687.50,72.63 L688.00,69.86 L689.00,69.86 L689.50,72.63 L690.00,69.86 L692.00,69.86 L692.50,67.08 L697.00,67.08 L697.50,69.86 L700.50,69.86 L701.00,67.08 L701.50,69.86 L720.50,69.86 L721.00,67.08 L721.50,69.86 L727.00,69.86 L727.50,72.63 L730.00,72.63 L730.50,75.41 L731.00,72.63 L747.00,72.63 L747.50,75.41 L756.00,75.41 L756.50,78.18 L757.00,75.41 L757.50,75.41 L758.00,72.63 L760.50,72.63 L761.00,69.86 L761.50,72.63 L769.50,72.63 L770.00,75.41 L770.50,72.63 L773.50,72.63 L774.00,75.41 L774.50,72.63 L775.00,72.63 L775.50,69.86 L776.00,72.63 L786.00,72.63 L786.50,75.41 L787.00,72.63 L801.50,72.63 L802.00,75.41 L802.50,69.86 L803.50,75.41 L804.00,72.63 L804.50,75.41 L808.00,75.41 L808.50,72.63 L809.00,75.41 L809.50,75.41 L810.00,72.63 L814.00,72.63 L814.50,75.41 L815.00,72.63 L818.50,72.63 L819.00,75.41 L819.50,72.63 L824.50,72.63 L825.00,75.41 L825.50,72.63 L831.00,72.63 L831.50,69.86 L832.00,72.63 L837.00,72.63 L837.50,69.86 L844.50,69.86 L845.00,67.08 L848.50,67.08 L849.00,69.86 L851.50,69.86 L852.00,72.63 L855.00,72.63 L855.50,75.41 L858.00,75.41 L858.50,78.18 L860.50,78.18 L861.00,80.96 L863.50,80.96 L864.00,83.73 L866.00,83.73 L866.50,86.51 L869.00,86.51 L869.50,89.28 L873.00,89.28 L873.50,92.06 L876.50,92.06 L877.00,94.83 L881.00,94.83 L881.50,97.61 L885.50,97.61 L886.00,100.38 L891.00,100.38 L891.50,103.16 L897.00,103.16 L897.50,105.93 L902.50,105.93 L903.00,108.71 L909.00,108.71 L909.50,111.48 L916.00,111.48 L916.50,114.26 L922.50,114.26 L923.00,117.03 L930.80,117.03" fill="none" stroke="#56b4e9" stroke-width="2.0" stroke-linejoin="round" stroke-linecap="round"/>
<path d="M120.50,108.71 L125.00,108.71 L125.50,111.48 L132.00,111.48 L132.50,114.26 L141.00,114.26 L141.50,117.03 L153.00,117.03 L153.50,119.81 L169.00,119.81 L169.50,122.58 L206.50,122.58 L207.00,125.36 L208.50,125.36 L209.00,122.58 L209.50,125.36 L223.00,125.36 L223.50,128.13 L274.00,128.13 L274.50,130.91 L280.00,130.91 L280.50,133.68 L281.00,130.91 L283.50,130.91 L284.00,133.68 L284.50,130.91 L286.50,130.91 L287.00,133.68 L287.50,128.13 L289.00,136.46 L289.50,133.68 L290.00,133.68 L290.50,130.91 L291.00,133.68 L293.00,133.68 L293.50,136.46 L294.50,136.46 L295.00,133.68 L308.00,133.68 L308.50,130.91 L309.00,130.91 L309.50,133.68 L321.50,133.68 L322.00,130.91 L322.50,133.68 L336.00,133.68 L336.50,130.91 L338.00,130.91 L338.50,128.13 L339.00,130.91 L339.50,130.91 L340.00,128.13 L340.50,133.68 L341.00,130.91 L344.50,130.91 L345.00,133.68 L345.50,130.91 L349.50,130.91 L350.00,128.13 L350.50,130.91 L355.00,130.91 L355.50,133.68 L356.00,130.91 L367.50,130.91 L368.00,128.13 L369.00,128.13 L369.50,125.36 L370.00,125.36 L370.50,122.58 L371.50,122.58 L372.00,119.81 L373.00,119.81 L373.50,117.03 L374.50,117.03 L375.00,114.26 L377.00,114.26 L377.50,111.48 L379.50,111.48 L380.00,108.71 L381.50,108.71 L382.00,105.93 L384.00,105.93 L384.50,103.16 L387.50,103.16 L388.00,100.38 L392.00,100.38 L392.50,97.61 L397.50,97.61 L398.00,94.83 L401.50,94.83 L402.00,92.06 L423.00,92.06 L423.50,89.28 L429.00,89.28 L429.50,86.51 L435.50,86.51 L436.00,83.73 L436.50,86.51 L443.50,86.51 L444.00,89.28 L444.50,83.73 L451.00,83.73 L451.50,80.96 L459.00,80.96 L459.50,78.18 L474.50,78.18 L475.00,80.96 L476.00,80.96 L476.50,83.73 L477.50,78.18 L478.00,80.96 L483.00,80.96 L483.50,78.18 L484.00,80.96 L484.50,78.18 L485.00,78.18 L485.50,75.41 L487.00,75.41 L487.50,72.63 L488.00,72.63 L488.50,75.41 L489.00,72.63 L493.50,72.63 L494.00,75.41 L494.50,72.63 L497.00,72.63 L497.50,69.86 L499.00,69.86 L499.50,67.08 L502.00,67.08 L502.50,64.31 L506.00,64.31 L506.50,61.53 L507.00,64.31 L509.00,64.31 L509.50,61.53 L512.50,61.53 L513.00,58.76 L513.50,61.53 L520.50,61.53 L521.00,64.31 L527.00,64.31 L527.50,61.53 L528.00,64.31 L528.50,64.31 L529.00,61.53 L529.50,64.31 L532.00,64.31 L532.50,67.08 L533.00,64.31 L533.50,64.31 L534.00,61.53 L536.50,61.53 L537.00,64.31 L537.50,61.53 L538.00,61.53 L538.50,64.31 L539.00,61.53 L547.50,61.53 L548.00,58.76 L551.00,58.76 L551.50,55.98 L559.50,55.98 L560.00,58.76 L560.50,55.98 L575.50,55.98 L576.00,58.76 L577.00,53.21 L582.00,53.21 L582.50,55.98 L583.00,53.21 L591.00,53.21 L591.50,55.98 L604.50,55.98 L605.00,53.21 L605.50,53.21 L606.00,55.98 L606.50,55.98 L607.00,58.76 L607.50,55.98 L609.00,55.98 L609.50,53.21 L610.00,55.98 L621.50,55.98 L622.00,53.21 L622.50,55.98 L624.00,55.98 L624.50,53.21 L625.50,53.21 L626.00,55.98 L626.50,53.21 L632.50,53.21 L633.00,55.98 L633.50,53.21 L634.00,53.21 L634.50,50.43 L635.00,53.21 L662.00,53.21 L662.50,55.98 L666.50,55.98 L667.00,58.76 L671.50,58.76 L672.00,55.98 L683.00,55.98 L683.50,58.76 L684.00,55.98 L688.50,55.98 L689.00,53.21 L689.50,55.98 L696.50,55.98 L697.00,58.76 L702.00,58.76 L702.50,61.53 L703.00,61.53 L703.50,64.31 L704.00,61.53 L712.00,61.53 L712.50,58.76 L713.50,58.76 L714.00,55.98 L720.00,55.98 L720.50,53.21 L729.00,53.21 L729.50,55.98 L738.50,55.98 L739.00,58.76 L744.50,58.76 L745.00,61.53 L746.00,61.53 L746.50,64.31 L748.00,64.31 L748.50,67.08 L749.00,64.31 L757.50,64.31 L758.00,61.53 L762.00,61.53 L762.50,58.76 L773.50,58.76 L774.00,61.53 L774.50,58.76 L785.50,58.76 L786.00,61.53 L793.00,61.53 L793.50,64.31 L794.00,61.53 L794.50,64.31 L799.00,64.31 L799.50,61.53 L804.50,61.53 L805.00,64.31 L805.50,61.53 L807.50,61.53 L808.00,64.31 L808.50,61.53 L823.00,61.53 L823.50,64.31 L824.00,61.53 L828.00,61.53 L828.50,58.76 L846.50,58.76 L847.00,61.53 L848.50,61.53 L849.00,64.31 L851.50,64.31 L852.00,67.08 L854.50,67.08 L855.00,69.86 L858.50,69.86 L859.00,72.63 L862.00,72.63 L862.50,75.41 L865.00,75.41 L865.50,78.18 L867.50,78.18 L868.00,80.96 L870.50,80.96 L871.00,83.73 L873.00,83.73 L873.50,86.51 L876.00,86.51 L876.50,89.28 L879.00,89.28 L879.50,92.06 L883.00,92.06 L883.50,94.83 L887.00,94.83 L887.50,97.61 L891.50,97.61 L892.00,100.38 L897.00,100.38 L897.50,103.16 L901.50,103.16 L902.00,105.93 L913.00,105.93 L913.50,108.71 L924.50,108.71 L925.00,111.48 L930.80,111.48" fill="none" stroke="#e69f00" stroke-width="2.0" stroke-linejoin="round" stroke-linecap="round"/>
<path d="M120.50,186.41 L133.00,186.41 L133.50,183.63 L134.00,189.18 L143.50,189.18 L144.00,186.41 L144.50,189.18 L156.00,189.18 L156.50,191.96 L181.50,191.96 L182.00,194.73 L223.00,194.73 L223.50,197.51 L228.00,197.51 L228.50,200.28 L229.00,197.51 L241.00,197.51 L241.50,200.28 L242.00,197.51 L269.00,197.51 L269.50,200.28 L270.00,197.51 L271.50,197.51 L272.00,194.73 L272.50,197.51 L276.50,197.51 L277.00,200.28 L278.00,194.73 L278.50,200.28 L337.50,200.28 L338.00,203.06 L338.50,200.28 L350.50,200.28 L351.00,197.51 L351.50,200.28 L352.50,200.28 L353.00,203.06 L354.00,203.06 L354.50,200.28 L357.50,200.28 L358.00,203.06 L358.50,200.28 L360.50,200.28 L361.00,203.06 L361.50,200.28 L362.00,200.28 L362.50,197.51 L363.00,200.28 L364.00,200.28 L364.50,203.06 L365.00,200.28 L373.00,200.28 L373.50,197.51 L380.00,197.51 L380.50,194.73 L385.50,194.73 L386.00,191.96 L391.00,191.96 L391.50,189.18 L396.00,189.18 L396.50,186.41 L401.50,186.41 L402.00,183.63 L407.00,183.63 L407.50,180.86 L414.00,180.86 L414.50,178.08 L421.00,178.08 L421.50,175.31 L428.00,175.31 L428.50,172.53 L434.00,172.53 L434.50,169.76 L445.50,169.76 L446.00,166.98 L456.00,166.98 L456.50,164.21 L467.00,164.21 L467.50,161.43 L468.00,161.43 L468.50,164.21 L469.00,161.43 L472.50,161.43 L473.00,164.21 L474.00,164.21 L474.50,161.43 L488.00,161.43 L488.50,158.66 L514.00,158.66 L514.50,155.88 L545.50,155.88 L546.00,153.11 L551.00,153.11 L551.50,155.88 L564.00,155.88 L564.50,153.11 L623.50,153.11 L624.00,150.33 L624.50,153.11 L652.00,153.11 L652.50,150.33 L666.00,150.33 L666.50,153.11 L673.50,153.11 L674.00,155.88 L674.50,153.11 L680.00,153.11 L680.50,155.88 L681.00,153.11 L681.50,153.11 L682.00,150.33 L682.50,155.88 L683.00,155.88 L683.50,153.11 L684.00,153.11 L684.50,150.33 L685.00,150.33 L685.50,153.11 L686.00,153.11 L686.50,150.33 L687.00,150.33 L687.50,153.11 L695.50,153.11 L696.00,150.33 L696.50,153.11 L703.00,153.11 L703.50,150.33 L704.00,153.11 L711.00,153.11 L711.50,150.33 L727.00,150.33 L727.50,153.11 L734.00,153.11 L734.50,155.88 L735.00,153.11 L788.50,153.11 L789.00,150.33 L846.50,150.33 L847.00,153.11 L851.50,153.11 L852.00,155.88 L859.00,155.88 L859.50,158.66 L864.50,158.66 L865.00,161.43 L869.00,161.43 L869.50,164.21 L874.50,164.21 L875.00,166.98 L879.00,166.98 L879.50,169.76 L884.50,169.76 L885.00,172.53 L889.00,172.53 L889.50,175.31 L898.00,175.31 L898.50,178.08 L903.00,178.08 L903.50,180.86 L914.00,180.86 L914.50,183.63 L921.50,183.63 L922.00,186.41 L930.80,186.41" fill="none" stroke="#f0e442" stroke-width="2.0" stroke-linejoin="round" stroke-linecap="round"/>
<path d="M120.50,161.43 L122.00,161.43 L122.50,158.66 L123.00,161.43 L137.00,161.43 L137.50,164.21 L176.00,164.21 L176.50,166.98 L209.00,166.98 L209.50,169.76 L240.50,169.76 L241.00,166.98 L242.00,172.53 L243.00,166.98 L243.50,172.53 L244.00,166.98 L244.50,169.76 L245.00,166.98 L245.50,169.76 L247.50,169.76 L248.00,166.98 L248.50,172.53 L249.50,166.98 L250.00,169.76 L252.50,169.76 L253.00,166.98 L253.50,169.76 L254.00,169.76 L254.50,166.98 L255.00,172.53 L265.50,172.53 L266.00,169.76 L266.50,172.53 L308.00,172.53 L308.50,169.76 L309.00,172.53 L310.00,172.53 L310.50,169.76 L311.00,172.53 L314.50,172.53 L315.00,169.76 L315.50,169.76 L316.50,175.31 L317.00,172.53 L336.00,172.53 L336.50,175.31 L337.00,172.53 L337.50,175.31 L366.00,175.31 L366.50,178.08 L367.00,175.31 L370.50,175.31 L371.50,169.76 L381.00,169.76 L381.50,166.98 L382.50,166.98 L383.00,164.21 L386.50,164.21 L387.00,161.43 L398.00,161.43 L399.00,155.88 L399.50,155.88 L400.00,153.11 L401.00,153.11 L401.50,150.33 L416.50,150.33 L417.00,147.56 L425.50,147.56 L426.00,144.78 L433.50,144.78 L434.00,142.01 L440.50,142.01 L441.00,139.23 L449.50,139.23 L450.00,136.46 L465.00,136.46 L465.50,133.68 L479.00,133.68 L479.50,130.91 L481.50,130.91 L482.00,128.13 L482.50,128.13 L483.00,130.91 L484.50,130.91 L485.00,128.13 L485.50,133.68 L486.00,130.91 L486.50,133.68 L487.50,128.13 L488.00,130.91 L489.50,130.91 L490.00,128.13 L490.50,130.91 L491.50,130.91 L492.00,133.68 L492.50,133.68 L493.00,130.91 L493.50,130.91 L494.00,133.68 L494.50,130.91 L495.00,130.91 L495.50,128.13 L496.00,133.68 L496.50,130.91 L497.00,130.91 L497.50,128.13 L498.00,130.91 L500.50,130.91 L501.00,128.13 L501.50,128.13 L502.00,130.91 L502.50,130.91 L503.00,128.13 L503.50,130.91 L504.00,128.13 L504.50,128.13 L505.00,130.91 L506.00,125.36 L506.50,128.13 L507.00,128.13 L507.50,125.36 L508.50,130.91 L509.00,128.13 L511.00,128.13 L511.50,130.91 L512.00,125.36 L512.50,128.13 L513.00,128.13 L513.50,130.91 L514.00,125.36 L551.50,125.36 L552.50,119.81 L553.50,125.36 L554.50,119.81 L555.50,125.36 L563.00,125.36 L563.50,128.13 L577.50,128.13 L578.00,125.36 L596.00,125.36 L596.50,122.58 L597.50,122.58 L598.00,119.81 L635.50,119.81 L636.00,122.58 L643.00,122.58 L643.50,125.36 L674.00,125.36 L674.50,128.13 L679.50,128.13 L680.00,130.91 L687.00,130.91 L687.50,128.13 L705.00,128.13 L705.50,125.36 L714.00,125.36 L714.50,128.13 L735.00,128.13 L735.50,125.36 L736.50,125.36 L737.00,122.58 L741.50,122.58 L742.00,125.36 L742.50,122.58 L744.00,122.58 L744.50,125.36 L788.50,125.36 L789.00,122.58 L789.50,125.36 L795.00,125.36 L795.50,128.13 L796.00,125.36 L800.50,125.36 L801.00,128.13 L801.50,125.36 L804.00,125.36 L804.50,128.13 L834.00,128.13 L834.50,125.36 L835.00,128.13 L849.00,128.13 L849.50,130.91 L855.00,130.91 L855.50,133.68 L861.50,133.68 L862.00,136.46 L866.50,136.46 L867.00,139.23 L872.00,139.23 L872.50,136.46 L873.00,139.23 L874.00,139.23 L874.50,142.01 L877.50,142.01 L878.00,144.78 L884.00,144.78 L884.50,147.56 L891.50,147.56 L892.00,150.33 L899.00,150.33 L899.50,153.11 L909.00,153.11 L909.50,155.88 L921.50,155.88 L922.00,158.66 L930.80,158.66" fill="none" stroke="#0072b2" stroke-width="2.0" stroke-linejoin="round" stroke-linecap="round"/>
<path d="M120.50,178.08 L125.50,178.08 L126.00,180.86 L139.50,180.86 L140.00,183.63 L157.50,183.63 L158.00,186.41 L173.00,186.41 L173.50,189.18 L174.00,186.41 L183.00,186.41 L183.50,189.18 L184.50,189.18 L185.00,191.96 L185.50,189.18 L224.50,189.18 L225.00,191.96 L247.00,191.96 L247.50,189.18 L248.00,191.96 L251.50,191.96 L252.00,189.18 L252.50,194.73 L253.00,191.96 L263.00,191.96 L263.50,194.73 L264.00,191.96 L264.50,194.73 L265.00,189.18 L265.50,191.96 L266.00,191.96 L266.50,189.18 L267.00,191.96 L267.50,189.18 L268.00,191.96 L268.50,189.18 L269.00,191.96 L270.50,191.96 L271.00,194.73 L271.50,191.96 L272.00,191.96 L272.50,194.73 L273.50,189.18 L274.50,194.73 L275.00,191.96 L275.50,191.96 L276.00,194.73 L323.50,194.73 L324.00,197.51 L324.50,194.73 L326.00,194.73 L326.50,197.51 L327.00,194.73 L349.00,194.73 L349.50,191.96 L350.00,194.73 L352.50,194.73 L353.00,197.51 L365.50,197.51 L366.00,194.73 L373.00,194.73 L373.50,191.96 L381.50,191.96 L382.00,189.18 L384.50,189.18 L385.00,186.41 L385.50,189.18 L386.50,189.18 L387.00,186.41 L391.50,186.41 L392.00,189.18 L392.50,183.63 L395.00,183.63 L395.50,186.41 L396.00,183.63 L397.00,183.63 L397.50,180.86 L399.50,180.86 L400.00,178.08 L400.50,180.86 L402.00,180.86 L402.50,178.08 L403.00,180.86 L403.50,178.08 L409.50,178.08 L410.00,175.31 L414.50,175.31 L415.00,172.53 L423.00,172.53 L423.50,169.76 L430.50,169.76 L431.00,166.98 L438.50,166.98 L439.00,164.21 L445.00,164.21 L445.50,161.43 L448.50,161.43 L449.00,158.66 L464.00,158.66 L464.50,155.88 L479.50,155.88 L480.00,158.66 L480.50,155.88 L489.00,155.88 L489.50,153.11 L497.50,153.11 L498.00,150.33 L498.50,153.11 L507.50,153.11 L508.00,150.33 L556.00,150.33 L556.50,147.56 L561.00,147.56 L561.50,144.78 L562.00,147.56 L564.00,147.56 L564.50,150.33 L565.00,147.56 L566.00,147.56 L566.50,144.78 L567.00,147.56 L567.50,147.56 L568.00,150.33 L568.50,147.56 L569.00,147.56 L569.50,150.33 L570.00,147.56 L570.50,147.56 L571.00,150.33 L571.50,147.56 L572.50,147.56 L573.00,144.78 L573.50,147.56 L635.00,147.56 L635.50,150.33 L636.00,147.56 L640.00,147.56 L640.50,150.33 L641.00,147.56 L643.00,147.56 L643.50,144.78 L674.00,144.78 L674.50,147.56 L690.50,147.56 L691.00,144.78 L691.50,150.33 L692.00,144.78 L693.00,150.33 L693.50,144.78 L694.00,147.56 L695.00,147.56 L695.50,144.78 L696.00,147.56 L697.50,147.56 L698.00,144.78 L698.50,147.56 L699.00,147.56 L699.50,150.33 L700.00,147.56 L711.50,147.56 L712.00,144.78 L717.50,144.78 L718.00,147.56 L718.50,144.78 L719.00,144.78 L719.50,147.56 L720.00,144.78 L743.50,144.78 L744.00,147.56 L799.50,147.56 L800.00,144.78 L801.50,144.78 L802.00,142.01 L802.50,144.78 L808.50,144.78 L809.00,142.01 L809.50,144.78 L812.50,144.78 L813.00,142.01 L813.50,144.78 L845.00,144.78 L845.50,147.56 L851.50,147.56 L852.00,150.33 L859.00,150.33 L859.50,153.11 L864.00,153.11 L864.50,155.88 L869.00,155.88 L869.50,158.66 L875.50,158.66 L876.00,161.43 L880.50,161.43 L881.00,164.21 L885.50,164.21 L886.00,166.98 L890.50,166.98 L891.00,169.76 L896.00,169.76 L896.50,166.98 L897.00,169.76 L898.00,169.76 L898.50,172.53 L905.50,172.53 L906.00,175.31 L915.50,175.31 L916.00,178.08 L926.50,178.08 L927.00,180.86 L930.50,180.86 L930.80,183.63" fill="none" stroke="#e51e10" stroke-width="2.0" stroke-linejoin="round" stroke-linecap="round"/>
<path d="M120.50,166.98 L132.50,166.98 L133.00,169.76 L140.50,169.76 L141.00,172.53 L148.00,172.53 L148.50,175.31 L160.00,175.31 L160.50,178.08 L170.00,178.08 L170.50,175.31 L173.50,175.31 L174.00,172.53 L174.50,175.31 L186.00,175.31 L186.50,172.53 L214.00,172.53 L214.50,175.31 L226.00,175.31 L226.50,178.08 L252.00,178.08 L252.50,175.31 L262.50,175.31 L263.00,172.53 L286.00,172.53 L286.50,175.31 L299.50,175.31 L300.00,178.08 L322.00,178.08 L322.50,175.31 L323.50,175.31 L324.00,172.53 L324.50,175.31 L333.50,175.31 L334.00,172.53 L397.00,172.53 L397.50,175.31 L415.00,175.31 L415.50,172.53 L423.00,172.53 L424.00,166.98 L424.50,169.76 L430.00,169.76 L430.50,166.98 L435.50,166.98 L436.00,164.21 L440.00,164.21 L440.50,161.43 L444.00,161.43 L444.50,158.66 L447.00,158.66 L447.50,155.88 L450.50,155.88 L451.00,153.11 L454.50,153.11 L455.00,150.33 L458.50,150.33 L459.00,147.56 L463.00,147.56 L463.50,144.78 L480.50,144.78 L481.00,147.56 L481.50,144.78 L484.50,144.78 L485.00,147.56 L493.50,147.56 L494.00,150.33 L502.50,150.33 L503.00,153.11 L517.50,153.11 L518.00,150.33 L531.50,150.33 L532.00,147.56 L538.00,147.56 L538.50,144.78 L539.00,147.56 L539.50,144.78 L545.50,144.78 L546.00,142.01 L553.00,142.01 L553.50,139.23 L560.00,139.23 L560.50,136.46 L576.50,136.46 L577.00,139.23 L583.00,139.23 L583.50,142.01 L587.50,142.01 L588.00,144.78 L594.00,144.78 L594.50,147.56 L600.00,147.56 L600.50,150.33 L601.00,150.33 L602.00,155.88 L602.50,155.88 L603.00,158.66 L603.50,158.66 L604.00,161.43 L605.00,161.43 L605.50,164.21 L617.50,164.21 L618.00,161.43 L625.00,161.43 L625.50,158.66 L631.50,158.66 L632.00,155.88 L637.50,155.88 L638.00,153.11 L643.50,153.11 L644.00,150.33 L652.50,150.33 L653.00,147.56 L664.00,147.56 L664.50,150.33 L666.00,150.33 L666.50,147.56 L669.00,147.56 L669.50,150.33 L675.50,150.33 L676.00,153.11 L695.50,153.11 L696.00,155.88 L696.50,153.11 L706.00,153.11 L706.50,150.33 L714.00,150.33 L714.50,147.56 L721.50,147.56 L722.00,144.78 L727.50,144.78 L728.00,142.01 L733.50,142.01 L734.00,139.23 L742.50,139.23 L743.00,136.46 L753.00,136.46 L753.50,139.23 L766.50,139.23 L767.00,142.01 L775.50,142.01 L776.00,144.78 L800.00,144.78 L800.50,142.01 L808.50,142.01 L809.00,139.23 L817.00,139.23 L817.50,142.01 L818.00,136.46 L823.00,136.46 L823.50,133.68 L824.00,136.46 L826.50,136.46 L827.00,130.91 L827.50,133.68 L841.50,133.68 L842.00,136.46 L845.50,136.46 L846.00,139.23 L851.50,139.23 L852.00,142.01 L855.00,142.01 L855.50,144.78 L858.50,144.78 L859.00,147.56 L862.00,147.56 L862.50,150.33 L863.00,150.33 L863.50,153.11 L870.50,153.11 L871.00,155.88 L874.00,155.88 L874.50,158.66 L879.00,158.66 L879.50,161.43 L890.50,161.43 L891.00,164.21 L911.50,164.21 L912.00,161.43 L912.50,164.21 L918.50,164.21 L919.00,161.43 L925.00,161.43 L925.50,158.66 L926.00,161.43 L930.80,161.43" fill="none" stroke="#000000" stroke-width="2.0" stroke-linejoin="round" stroke-linecap="round"/>
<path d="M120.50,178.08 L121.00,180.86 L122.50,180.86 L123.00,183.63 L124.00,183.63 L124.50,186.41 L126.00,186.41 L126.50,189.18 L128.50,189.18 L129.00,191.96 L131.00,191.96 L131.50,194.73 L142.00,194.73 L142.50,191.96 L144.50,191.96 L145.00,189.18 L148.50,189.18 L149.00,186.41 L154.50,186.41 L155.00,183.63 L160.50,183.63 L161.00,180.86 L164.50,180.86 L165.00,178.08 L169.00,178.08 L169.50,175.31 L175.00,175.31 L175.50,172.53 L180.00,172.53 L180.50,169.76 L187.50,169.76 L188.00,172.53 L190.50,172.53 L191.00,175.31 L193.00,175.31 L193.50,178.08 L195.50,178.08 L196.00,180.86 L197.50,180.86 L198.00,183.63 L199.50,183.63 L200.00,186.41 L201.50,186.41 L202.00,189.18 L203.50,189.18 L204.00,191.96 L205.50,191.96 L206.00,194.73 L214.50,194.73 L215.00,191.96 L218.00,191.96 L218.50,189.18 L221.50,189.18 L222.00,186.41 L226.50,186.41 L227.00,183.63 L232.50,183.63 L233.00,180.86 L238.00,180.86 L238.50,178.08 L243.00,178.08 L243.50,175.31 L248.00,175.31 L248.50,172.53 L255.00,172.53 L255.50,169.76 L263.00,169.76 L263.50,172.53 L264.50,172.53 L265.00,175.31 L266.50,175.31 L267.00,178.08 L268.00,178.08 L268.50,180.86 L270.00,180.86 L270.50,183.63 L272.00,183.63 L272.50,186.41 L273.50,186.41 L274.00,189.18 L283.50,189.18 L284.00,191.96 L284.50,189.18 L289.00,189.18 L289.50,186.41 L291.50,186.41 L292.00,183.63 L295.50,183.63 L296.00,180.86 L300.50,180.86 L301.00,178.08 L306.50,178.08 L307.00,175.31 L313.00,175.31 L313.50,172.53 L319.50,172.53 L320.00,169.76 L332.50,169.76 L333.00,172.53 L356.50,172.53 L357.00,169.76 L367.00,169.76 L367.50,166.98 L371.00,166.98 L371.50,169.76 L373.50,169.76 L374.00,172.53 L376.50,172.53 L377.00,175.31 L378.50,175.31 L379.00,178.08 L380.50,178.08 L381.00,180.86 L382.50,180.86 L383.00,183.63 L384.50,183.63 L385.00,186.41 L386.50,186.41 L387.00,189.18 L388.50,189.18 L389.00,191.96 L391.00,191.96 L391.50,194.73 L392.50,194.73 L393.00,197.51 L400.00,197.51 L400.50,194.73 L401.50,194.73 L402.00,191.96 L405.50,191.96 L406.00,189.18 L410.00,189.18 L410.50,186.41 L414.00,186.41 L414.50,183.63 L418.00,183.63 L418.50,180.86 L422.00,180.86 L422.50,178.08 L425.00,178.08 L425.50,175.31 L430.00,175.31 L430.50,172.53 L433.00,172.53 L433.50,169.76 L437.50,169.76 L438.00,166.98 L443.50,166.98 L444.00,164.21 L450.00,164.21 L450.50,161.43 L455.00,161.43 L455.50,164.21 L457.00,164.21 L457.50,166.98 L458.50,166.98 L459.00,169.76 L460.50,169.76 L461.00,172.53 L463.00,172.53 L463.50,175.31 L465.00,175.31 L465.50,178.08 L466.50,178.08 L467.00,180.86 L468.50,180.86 L469.00,183.63 L470.50,183.63 L471.00,186.41 L472.50,186.41 L473.00,189.18 L475.00,189.18 L475.50,191.96 L477.00,191.96 L477.50,194.73 L479.00,194.73 L479.50,197.51 L481.50,197.51 L482.00,200.28 L493.00,200.28 L493.50,197.51 L495.00,197.51 L495.50,194.73 L497.50,194.73 L498.00,191.96 L500.50,191.96 L501.00,189.18 L503.50,189.18 L504.00,186.41 L508.00,186.41 L508.50,183.63 L511.50,183.63 L512.00,180.86 L514.50,180.86 L515.00,178.08 L519.00,178.08 L519.50,175.31 L523.00,175.31 L523.50,172.53 L527.50,172.53 L528.00,169.76 L531.50,169.76 L532.00,166.98 L536.50,166.98 L537.00,164.21 L542.00,164.21 L542.50,161.43 L553.00,161.43 L553.50,164.21 L555.00,164.21 L555.50,166.98 L557.50,166.98 L558.00,169.76 L560.00,169.76 L560.50,172.53 L562.00,172.53 L562.50,175.31 L564.00,175.31 L564.50,178.08 L566.00,178.08 L566.50,180.86 L568.00,180.86 L568.50,183.63 L570.00,183.63 L570.50,186.41 L572.50,186.41 L573.00,189.18 L575.00,189.18 L575.50,191.96 L578.00,191.96 L578.50,194.73 L581.00,194.73 L581.50,197.51 L591.00,197.51 L591.50,194.73 L593.50,194.73 L594.00,191.96 L596.50,191.96 L597.00,189.18 L599.50,189.18 L600.00,186.41 L603.50,186.41 L604.00,183.63 L607.50,183.63 L608.00,180.86 L611.50,180.86 L612.00,178.08 L615.50,178.08 L616.00,175.31 L619.50,175.31 L620.00,172.53 L624.00,172.53 L624.50,169.76 L628.50,169.76 L629.00,166.98 L634.50,166.98 L635.00,164.21 L637.50,164.21 L638.00,166.98 L640.00,166.98 L640.50,169.76 L642.50,169.76 L643.00,172.53 L644.50,172.53 L645.00,175.31 L647.00,175.31 L647.50,178.08 L649.00,178.08 L649.50,180.86 L651.00,180.86 L651.50,183.63 L653.00,183.63 L653.50,186.41 L655.00,186.41 L655.50,189.18 L657.00,189.18 L657.50,191.96 L658.50,191.96 L659.00,194.73 L660.00,194.73 L660.50,197.51 L662.00,197.51 L662.50,200.28 L665.00,200.28 L665.50,203.06 L668.00,203.06 L668.50,205.83 L670.00,205.83 L670.50,208.61 L674.50,208.61 L675.00,205.83 L676.50,205.83 L677.00,203.06 L679.50,203.06 L680.00,200.28 L682.50,200.28 L683.00,197.51 L685.50,197.51 L686.00,194.73 L688.50,194.73 L689.00,191.96 L692.00,191.96 L692.50,189.18 L695.50,189.18 L696.00,186.41 L697.50,186.41 L698.00,183.63 L700.50,183.63 L701.00,180.86 L703.50,180.86 L704.00,178.08 L708.50,178.08 L709.00,175.31 L713.00,175.31 L713.50,172.53 L717.50,172.53 L718.00,169.76 L723.50,169.76 L724.00,166.98 L735.00,166.98 L735.50,169.76 L738.00,169.76 L738.50,172.53 L740.00,172.53 L740.50,175.31 L742.00,175.31 L742.50,178.08 L744.00,178.08 L744.50,180.86 L745.50,180.86 L746.00,183.63 L747.00,183.63 L747.50,186.41 L749.00,186.41 L749.50,189.18 L751.00,189.18 L751.50,191.96 L753.00,191.96 L753.50,194.73 L754.50,194.73 L755.00,197.51 L756.50,197.51 L757.00,200.28 L767.50,200.28 L768.00,197.51 L771.50,197.51 L772.00,194.73 L774.50,194.73 L775.00,191.96 L778.50,191.96 L779.00,189.18 L784.00,189.18 L784.50,186.41 L789.00,186.41 L789.50,183.63 L792.50,183.63 L793.00,180.86 L797.50,180.86 L798.00,178.08 L802.50,178.08 L803.00,175.31 L807.00,175.31 L807.50,172.53 L813.50,172.53 L814.00,169.76 L823.00,169.76 L823.50,172.53 L825.00,172.53 L825.50,175.31 L827.00,175.31 L827.50,178.08 L829.00,178.08 L829.50,180.86 L831.00,180.86 L831.50,183.63 L833.50,183.63 L834.00,186.41 L835.50,186.41 L836.00,189.18 L837.50,189.18 L838.00,191.96 L839.50,191.96 L840.00,194.73 L842.00,194.73 L842.50,197.51 L844.00,197.51 L844.50,200.28 L846.00,200.28 L846.50,203.06 L852.00,203.06 L852.50,205.83 L853.00,203.06 L857.00,203.06 L857.50,200.28 L860.50,200.28 L861.00,197.51 L865.50,197.51 L866.00,194.73 L870.50,194.73 L871.00,191.96 L874.50,191.96 L875.00,189.18 L878.50,189.18 L879.00,186.41 L883.00,186.41 L883.50,183.63 L888.00,183.63 L888.50,180.86 L893.50,180.86 L894.00,178.08 L899.50,178.08 L900.00,175.31 L904.50,175.31 L905.00,172.53 L911.50,172.53 L912.00,169.76 L918.50,169.76 L919.00,166.98 L926.50,166.98 L927.00,169.76 L929.50,169.76 L930.00,172.53 L930.80,172.53" fill="none" stroke="#a0a0a0" stroke-width="1.15" stroke-linejoin="round" stroke-linecap="round"/>
</g>
<g>
<path d="M120.50,409.24 L572.42,409.24 L572.98,403.97 L574.66,396.08 L584.18,396.08 L584.74,393.44 L585.30,393.44 L585.86,385.55 L586.42,380.28 L586.98,372.39 L587.54,372.39 L588.10,369.76 L589.22,369.76 L589.78,367.12 L599.86,367.12 L600.42,369.76 L600.98,364.49 L601.54,356.60 L602.10,351.33 L604.34,351.33 L604.90,348.70 L606.02,348.70 L606.58,346.07 L614.42,346.07 L614.98,348.70 L625.06,348.70 L625.62,351.33 L632.90,351.33 L633.46,353.96 L644.10,353.96 L644.66,356.60 L657.54,356.60 L658.10,359.23 L676.02,359.23 L676.58,361.86 L694.50,361.86 L695.06,364.49 L712.42,364.49 L712.98,367.12 L733.14,367.12 L733.70,369.76 L757.78,369.76 L758.34,372.39 L788.02,372.39 L788.58,375.02 L819.94,375.02 L820.50,377.65 L856.34,377.65 L856.90,380.28 L895.54,380.28 L896.10,382.92 L930.80,382.92" fill="none" stroke="#9400d3" stroke-width="2.0" stroke-linejoin="round" stroke-linecap="round"/>
<path d="M120.50,401.34 L146.26,401.34 L146.82,403.97 L147.38,403.97 L147.94,401.34 L153.54,401.34 L154.10,398.71 L154.66,401.34 L155.22,401.34 L155.78,403.97 L156.34,401.34 L157.46,401.34 L158.02,403.97 L520.34,403.97 L520.90,401.34 L521.46,401.34 L522.02,403.97 L550.58,403.97 L551.14,401.34 L553.38,401.34 L553.94,403.97 L557.30,403.97 L557.86,401.34 L562.34,401.34 L562.90,403.97 L565.14,403.97 L565.70,390.81 L566.26,380.28 L567.38,369.76 L567.94,367.12 L568.50,361.86 L569.06,361.86 L570.18,356.60 L570.74,356.60 L571.30,353.96 L571.86,353.96 L572.42,351.33 L573.54,351.33 L574.10,348.70 L575.22,348.70 L575.78,346.07 L577.46,346.07 L578.02,343.44 L580.26,343.44 L580.82,340.80 L588.10,340.80 L588.66,343.44 L593.70,343.44 L594.82,348.70 L602.10,348.70 L602.66,343.44 L604.34,335.54 L605.46,335.54 L606.02,332.91 L607.14,332.91 L607.70,330.28 L612.18,330.28 L612.74,327.64 L619.46,327.64 L620.02,325.01 L630.10,325.01 L630.66,327.64 L646.34,327.64 L646.90,330.28 L664.82,330.28 L665.38,332.91 L671.54,332.91 L672.10,335.54 L678.26,335.54 L678.82,338.17 L685.54,338.17 L686.10,340.80 L692.26,340.80 L692.82,343.44 L698.98,343.44 L699.54,346.07 L714.66,346.07 L715.22,348.70 L723.62,348.70 L724.18,351.33 L733.14,351.33 L733.70,353.96 L747.14,353.96 L747.70,356.60 L763.38,356.60 L763.94,359.23 L785.78,359.23 L786.34,361.86 L810.98,361.86 L811.54,364.49 L840.66,364.49 L841.22,367.12 L905.62,367.12 L906.18,369.76 L930.80,369.76" fill="none" stroke="#009e73" stroke-width="2.0" stroke-linejoin="round" stroke-linecap="round"/>
<path d="M120.50,317.12 L132.26,317.12 L132.82,319.75 L147.38,319.75 L147.94,322.38 L164.18,322.38 L164.74,325.01 L179.30,325.01 L179.86,327.64 L198.90,327.64 L199.46,330.28 L218.50,330.28 L219.06,332.91 L244.82,332.91 L245.38,335.54 L267.78,335.54 L268.34,338.17 L290.18,338.17 L290.74,340.80 L313.14,340.80 L313.70,343.44 L345.62,343.44 L346.18,346.07 L365.78,346.07 L366.90,340.80 L367.46,340.80 L368.02,338.17 L369.70,338.17 L370.26,335.54 L372.50,335.54 L373.06,332.91 L375.86,332.91 L376.42,330.28 L376.98,330.28 L377.54,327.64 L379.22,327.64 L379.78,325.01 L382.02,325.01 L384.26,314.48 L385.38,319.75 L387.06,319.75 L387.62,322.38 L388.74,322.38 L389.30,319.75 L403.86,319.75 L404.42,317.12 L406.66,317.12 L407.22,319.75 L407.78,317.12 L411.70,317.12 L412.26,314.48 L414.50,314.48 L415.06,311.85 L416.18,311.85 L416.74,314.48 L417.30,311.85 L420.66,311.85 L421.22,314.48 L421.78,311.85 L422.34,314.48 L422.90,311.85 L423.46,314.48 L426.82,314.48 L427.38,311.85 L427.94,314.48 L428.50,314.48 L429.06,311.85 L429.62,314.48 L430.18,311.85 L430.74,311.85 L431.30,309.22 L434.10,309.22 L434.66,311.85 L443.06,311.85 L443.62,309.22 L444.18,311.85 L444.74,309.22 L445.86,309.22 L446.42,311.85 L448.66,311.85 L449.22,309.22 L450.34,309.22 L450.90,311.85 L451.46,309.22 L452.02,309.22 L453.14,303.96 L453.70,303.96 L455.38,296.06 L455.94,298.69 L456.50,296.06 L457.06,298.69 L458.18,298.69 L458.74,301.32 L459.30,298.69 L460.98,298.69 L461.54,296.06 L462.10,298.69 L462.66,298.69 L463.22,301.32 L464.34,301.32 L464.90,303.96 L466.02,303.96 L466.58,306.59 L467.14,306.59 L468.26,301.32 L470.50,301.32 L471.06,303.96 L472.74,303.96 L473.30,301.32 L474.42,301.32 L474.98,298.69 L478.90,298.69 L479.46,301.32 L480.02,298.69 L482.26,298.69 L482.82,296.06 L483.94,301.32 L486.74,301.32 L487.30,298.69 L492.34,298.69 L492.90,301.32 L493.46,298.69 L494.58,298.69 L495.14,296.06 L495.70,296.06 L496.26,293.43 L497.38,293.43 L497.94,290.80 L499.06,290.80 L499.62,288.16 L500.74,288.16 L501.30,290.80 L503.54,290.80 L504.10,293.43 L504.66,290.80 L506.90,290.80 L507.46,296.06 L508.02,296.06 L508.58,298.69 L509.14,298.69 L509.70,296.06 L510.82,296.06 L511.38,293.43 L511.94,296.06 L514.18,296.06 L514.74,298.69 L515.86,298.69 L516.42,296.06 L516.98,298.69 L517.54,296.06 L522.58,296.06 L523.14,298.69 L524.82,298.69 L525.38,301.32 L525.94,298.69 L526.50,301.32 L527.06,298.69 L527.62,301.32 L528.18,301.32 L529.30,296.06 L530.42,296.06 L530.98,293.43 L531.54,296.06 L532.10,293.43 L532.66,293.43 L533.22,296.06 L535.46,296.06 L536.02,293.43 L536.58,296.06 L537.70,296.06 L538.26,298.69 L539.38,298.69 L539.94,301.32 L540.50,298.69 L541.06,301.32 L541.62,298.69 L542.74,298.69 L543.30,301.32 L544.42,301.32 L544.98,298.69 L545.54,301.32 L546.10,301.32 L546.66,298.69 L547.22,298.69 L547.78,301.32 L548.34,298.69 L555.06,298.69 L555.62,301.32 L556.18,296.06 L556.74,296.06 L558.42,288.16 L558.98,290.80 L560.66,290.80 L561.22,293.43 L563.46,293.43 L564.02,296.06 L564.58,293.43 L565.14,296.06 L565.70,293.43 L568.50,293.43 L569.06,290.80 L570.18,290.80 L570.74,293.43 L571.30,293.43 L571.86,296.06 L572.42,296.06 L572.98,293.43 L573.54,296.06 L574.10,296.06 L574.66,298.69 L577.46,298.69 L578.02,301.32 L578.58,301.32 L579.14,298.69 L579.70,298.69 L580.26,296.06 L581.38,296.06 L581.94,293.43 L582.50,293.43 L583.06,290.80 L583.62,293.43 L584.18,290.80 L584.74,290.80 L585.30,288.16 L586.42,288.16 L586.98,285.53 L590.34,285.53 L590.90,288.16 L592.02,282.90 L592.58,277.64 L593.14,275.00 L593.70,275.00 L594.26,272.37 L595.38,272.37 L597.06,280.27 L598.74,280.27 L599.30,282.90 L599.86,280.27 L600.98,280.27 L601.54,277.64 L602.10,277.64 L602.66,275.00 L607.14,275.00 L607.70,272.37 L609.38,272.37 L609.94,269.74 L610.50,269.74 L611.06,267.11 L612.74,267.11 L613.86,272.37 L614.42,272.37 L614.98,275.00 L615.54,275.00 L616.10,277.64 L616.66,275.00 L617.22,277.64 L617.78,277.64 L618.34,275.00 L618.90,277.64 L619.46,277.64 L620.02,275.00 L620.58,277.64 L623.38,277.64 L623.94,280.27 L625.06,280.27 L625.62,277.64 L626.18,280.27 L626.74,277.64 L627.30,280.27 L627.86,277.64 L628.42,277.64 L628.98,272.37 L629.54,272.37 L630.10,267.11 L630.66,264.48 L631.22,267.11 L632.34,267.11 L632.90,269.74 L635.14,269.74 L635.70,272.37 L641.30,272.37 L641.86,275.00 L642.98,275.00 L643.54,277.64 L645.22,277.64 L645.78,275.00 L646.34,277.64 L648.02,277.64 L648.58,275.00 L649.14,275.00 L649.70,277.64 L650.82,277.64 L651.38,275.00 L651.94,277.64 L653.06,272.37 L653.62,275.00 L654.18,272.37 L654.74,272.37 L656.42,264.48 L656.98,264.48 L657.54,267.11 L658.66,267.11 L659.22,264.48 L659.78,264.48 L660.34,267.11 L660.90,267.11 L662.02,272.37 L663.14,272.37 L663.70,275.00 L664.82,275.00 L665.38,277.64 L665.94,275.00 L666.50,277.64 L668.18,277.64 L668.74,280.27 L669.30,277.64 L670.42,277.64 L670.98,280.27 L671.54,277.64 L673.78,277.64 L674.34,275.00 L675.46,275.00 L676.02,272.37 L676.58,275.00 L677.14,272.37 L677.70,275.00 L678.26,272.37 L679.38,272.37 L679.94,269.74 L681.62,269.74 L682.18,272.37 L683.30,272.37 L683.86,269.74 L684.42,264.48 L684.98,261.84 L686.10,261.84 L686.66,259.21 L688.34,259.21 L688.90,256.58 L690.58,256.58 L691.14,253.95 L692.26,259.21 L692.82,259.21 L693.94,264.48 L694.50,264.48 L695.06,267.11 L696.18,267.11 L696.74,269.74 L698.42,269.74 L698.98,272.37 L700.10,272.37 L700.66,275.00 L701.78,275.00 L702.34,277.64 L702.90,275.00 L703.46,277.64 L709.06,277.64 L709.62,275.00 L711.30,275.00 L711.86,272.37 L712.42,272.37 L712.98,275.00 L713.54,275.00 L714.10,272.37 L717.46,272.37 L718.58,267.11 L720.82,267.11 L721.38,269.74 L721.94,269.74 L722.50,272.37 L724.74,272.37 L725.30,275.00 L728.10,275.00 L728.66,277.64 L730.34,277.64 L730.90,275.00 L731.46,277.64 L732.02,277.64 L732.58,275.00 L733.70,275.00 L734.26,272.37 L734.82,272.37 L735.38,269.74 L737.06,269.74 L738.18,275.00 L740.42,275.00 L740.98,272.37 L741.54,275.00 L747.70,275.00 L748.26,272.37 L748.82,275.00 L752.74,275.00 L753.30,272.37 L754.42,272.37 L754.98,269.74 L760.02,269.74 L760.58,272.37 L763.38,272.37 L763.94,269.74 L764.50,269.74 L765.06,272.37 L766.18,272.37 L766.74,275.00 L769.54,275.00 L770.10,277.64 L770.66,275.00 L772.90,275.00 L773.46,272.37 L774.02,275.00 L778.50,275.00 L779.06,277.64 L779.62,275.00 L781.86,275.00 L782.42,272.37 L782.98,272.37 L783.54,275.00 L785.22,275.00 L785.78,272.37 L786.34,275.00 L786.90,272.37 L788.02,272.37 L788.58,269.74 L790.26,269.74 L790.82,272.37 L791.94,272.37 L792.50,275.00 L793.06,272.37 L794.74,272.37 L795.30,269.74 L795.86,272.37 L796.42,269.74 L796.98,272.37 L799.22,272.37 L799.78,275.00 L800.34,275.00 L800.90,272.37 L801.46,275.00 L807.06,275.00 L807.62,277.64 L808.18,275.00 L809.30,275.00 L809.86,272.37 L811.54,272.37 L812.10,269.74 L813.78,269.74 L814.34,272.37 L816.02,272.37 L816.58,275.00 L817.14,272.37 L821.62,272.37 L822.18,269.74 L823.30,269.74 L823.86,272.37 L824.98,272.37 L825.54,275.00 L827.22,275.00 L827.78,277.64 L828.34,277.64 L828.90,275.00 L829.46,275.00 L830.02,277.64 L830.58,277.64 L831.14,275.00 L832.26,275.00 L832.82,272.37 L833.94,272.37 L834.50,269.74 L836.74,269.74 L837.30,267.11 L837.86,269.74 L841.78,269.74 L842.34,267.11 L846.82,267.11 L847.38,269.74 L847.94,269.74 L848.50,272.37 L850.18,272.37 L851.30,277.64 L851.86,275.00 L852.42,277.64 L853.54,277.64 L854.10,280.27 L856.90,280.27 L857.46,282.90 L858.58,282.90 L859.14,285.53 L859.70,282.90 L860.26,285.53 L861.94,285.53 L862.50,288.16 L863.06,285.53 L863.62,288.16 L864.74,288.16 L865.30,290.80 L865.86,288.16 L866.42,290.80 L869.22,290.80 L869.78,293.43 L874.82,293.43 L875.38,296.06 L875.94,293.43 L876.50,296.06 L880.42,296.06 L880.98,298.69 L881.54,296.06 L882.10,298.69 L886.58,298.69 L887.14,301.32 L887.70,298.69 L888.26,301.32 L888.82,298.69 L889.38,298.69 L889.94,301.32 L895.54,301.32 L896.10,303.96 L904.50,303.96 L905.06,306.59 L905.62,303.96 L906.18,303.96 L906.74,306.59 L907.30,306.59 L907.86,303.96 L908.42,306.59 L908.98,303.96 L909.54,306.59 L919.06,306.59 L919.62,309.22 L920.74,309.22 L921.30,306.59 L921.86,306.59 L922.42,309.22 L930.80,309.22" fill="none" stroke="#56b4e9" stroke-width="2.0" stroke-linejoin="round" stroke-linecap="round"/>
<path d="M120.50,327.64 L149.62,327.64 L150.18,330.28 L168.10,330.28 L168.66,332.91 L184.90,332.91 L185.46,335.54 L198.90,335.54 L199.46,338.17 L231.94,338.17 L232.50,340.80 L257.14,340.80 L257.70,343.44 L304.18,343.44 L304.74,346.07 L341.14,346.07 L341.70,348.70 L342.26,346.07 L356.26,346.07 L356.82,343.44 L357.38,343.44 L357.94,346.07 L358.50,343.44 L363.54,343.44 L364.10,346.07 L364.66,343.44 L365.22,343.44 L365.78,346.07 L367.46,338.17 L368.02,338.17 L368.58,335.54 L369.70,335.54 L370.26,330.28 L370.82,330.28 L374.18,314.48 L374.74,317.12 L375.86,317.12 L376.42,319.75 L377.54,314.48 L378.10,314.48 L378.66,311.85 L380.34,311.85 L380.90,309.22 L382.02,309.22 L382.58,306.59 L384.26,306.59 L384.82,298.69 L385.38,298.69 L385.94,301.32 L386.50,301.32 L387.06,303.96 L387.62,303.96 L388.18,306.59 L389.30,306.59 L389.86,309.22 L390.42,309.22 L390.98,311.85 L392.10,306.59 L392.66,306.59 L393.22,303.96 L394.34,303.96 L394.90,301.32 L395.46,301.32 L396.02,298.69 L397.70,298.69 L398.26,301.32 L399.38,301.32 L401.06,293.43 L403.30,293.43 L403.86,296.06 L404.42,296.06 L404.98,298.69 L405.54,298.69 L406.10,301.32 L407.22,301.32 L407.78,303.96 L408.34,301.32 L411.70,301.32 L412.26,298.69 L413.38,298.69 L413.94,296.06 L414.50,298.69 L415.06,296.06 L415.62,296.06 L416.18,298.69 L416.74,298.69 L417.30,301.32 L418.42,301.32 L418.98,303.96 L421.22,303.96 L421.78,306.59 L422.34,303.96 L424.02,303.96 L424.58,301.32 L425.14,303.96 L425.70,303.96 L426.26,301.32 L427.94,301.32 L428.50,298.69 L429.06,301.32 L429.62,298.69 L430.18,301.32 L431.86,301.32 L432.42,303.96 L433.54,303.96 L434.10,306.59 L434.66,306.59 L435.22,303.96 L435.78,303.96 L436.34,306.59 L436.90,306.59 L437.46,309.22 L438.02,306.59 L438.58,309.22 L439.14,306.59 L440.26,306.59 L440.82,303.96 L442.50,303.96 L443.06,301.32 L446.42,301.32 L446.98,298.69 L447.54,301.32 L448.10,301.32 L448.66,298.69 L449.22,298.69 L449.78,301.32 L453.70,301.32 L454.26,298.69 L454.82,298.69 L455.38,296.06 L455.94,296.06 L456.50,293.43 L457.06,293.43 L457.62,290.80 L458.18,293.43 L458.74,293.43 L459.30,296.06 L460.98,296.06 L461.54,293.43 L463.22,293.43 L463.78,296.06 L467.14,296.06 L467.70,298.69 L469.94,298.69 L470.50,301.32 L471.06,298.69 L472.18,298.69 L472.74,301.32 L474.98,301.32 L475.54,303.96 L476.10,303.96 L476.66,301.32 L477.22,303.96 L477.78,303.96 L478.34,301.32 L478.90,303.96 L480.02,303.96 L480.58,301.32 L481.14,303.96 L481.70,301.32 L482.26,301.32 L482.82,303.96 L483.38,301.32 L483.94,303.96 L484.50,301.32 L485.06,303.96 L487.30,303.96 L487.86,301.32 L488.98,301.32 L489.54,298.69 L490.10,301.32 L490.66,298.69 L491.22,301.32 L491.78,298.69 L492.34,301.32 L495.14,301.32 L495.70,303.96 L496.26,301.32 L496.82,303.96 L498.50,303.96 L499.62,298.69 L500.18,298.69 L500.74,293.43 L501.86,293.43 L502.42,296.06 L504.10,296.06 L504.66,298.69 L510.82,298.69 L511.38,301.32 L512.50,301.32 L513.06,298.69 L513.62,298.69 L514.18,301.32 L515.30,301.32 L515.86,303.96 L516.42,301.32 L516.98,303.96 L519.78,303.96 L520.34,306.59 L520.90,303.96 L521.46,306.59 L522.02,306.59 L522.58,303.96 L526.50,303.96 L527.06,301.32 L527.62,301.32 L528.18,303.96 L533.22,303.96 L533.78,298.69 L534.34,296.06 L534.90,296.06 L535.46,298.69 L536.02,298.69 L536.58,301.32 L541.62,301.32 L542.18,298.69 L542.74,301.32 L544.98,290.80 L546.10,290.80 L546.66,293.43 L547.22,293.43 L547.78,296.06 L548.34,293.43 L554.50,293.43 L555.06,296.06 L555.62,296.06 L556.18,290.80 L556.74,288.16 L557.30,290.80 L557.86,288.16 L558.42,288.16 L558.98,285.53 L560.10,285.53 L560.66,288.16 L562.90,288.16 L563.46,290.80 L565.14,290.80 L565.70,293.43 L571.30,293.43 L571.86,296.06 L572.42,293.43 L572.98,296.06 L573.54,293.43 L574.66,293.43 L575.78,288.16 L578.58,288.16 L579.14,285.53 L579.70,285.53 L580.26,288.16 L580.82,288.16 L581.38,290.80 L581.94,288.16 L582.50,288.16 L583.06,290.80 L583.62,290.80 L584.18,288.16 L585.86,288.16 L586.98,293.43 L588.10,293.43 L588.66,296.06 L590.34,296.06 L590.90,298.69 L592.02,298.69 L592.58,301.32 L594.26,301.32 L594.82,303.96 L597.62,303.96 L598.18,301.32 L600.98,301.32 L601.54,298.69 L604.90,298.69 L605.46,296.06 L606.58,296.06 L607.14,293.43 L607.70,293.43 L608.26,290.80 L612.74,290.80 L613.30,293.43 L614.42,293.43 L616.66,282.90 L617.78,282.90 L618.34,285.53 L618.90,285.53 L619.46,288.16 L620.58,288.16 L621.14,285.53 L621.70,285.53 L622.26,280.27 L623.94,280.27 L624.50,282.90 L625.06,282.90 L625.62,280.27 L626.74,280.27 L627.30,282.90 L627.86,280.27 L632.34,280.27 L632.90,282.90 L633.46,280.27 L634.02,282.90 L634.58,282.90 L635.14,285.53 L636.82,285.53 L637.38,288.16 L637.94,285.53 L640.18,285.53 L640.74,282.90 L641.30,285.53 L641.86,282.90 L644.66,282.90 L645.22,280.27 L647.46,280.27 L648.02,282.90 L648.58,280.27 L649.70,280.27 L650.26,282.90 L650.82,282.90 L651.38,285.53 L651.94,285.53 L652.50,288.16 L653.06,285.53 L653.62,285.53 L654.18,288.16 L654.74,285.53 L656.98,285.53 L657.54,288.16 L658.66,288.16 L659.22,290.80 L659.78,290.80 L660.34,293.43 L660.90,290.80 L665.94,290.80 L666.50,293.43 L668.18,293.43 L668.74,290.80 L670.98,290.80 L671.54,288.16 L673.22,288.16 L673.78,285.53 L676.02,285.53 L676.58,282.90 L677.70,282.90 L678.82,277.64 L681.62,277.64 L682.18,280.27 L682.74,280.27 L683.30,282.90 L684.42,277.64 L685.54,277.64 L686.10,275.00 L686.66,275.00 L687.22,277.64 L687.78,277.64 L688.34,280.27 L688.90,280.27 L689.46,282.90 L690.02,280.27 L691.70,280.27 L692.26,282.90 L694.50,282.90 L695.06,285.53 L695.62,282.90 L696.18,285.53 L697.30,285.53 L697.86,288.16 L698.42,285.53 L698.98,285.53 L699.54,288.16 L705.14,288.16 L705.70,290.80 L706.26,290.80 L706.82,288.16 L707.38,288.16 L707.94,290.80 L708.50,288.16 L710.18,288.16 L710.74,285.53 L713.54,285.53 L714.10,282.90 L714.66,285.53 L715.22,282.90 L716.34,282.90 L716.90,280.27 L718.58,280.27 L719.14,277.64 L719.70,277.64 L720.26,280.27 L720.82,277.64 L721.38,280.27 L721.94,280.27 L722.50,277.64 L723.06,280.27 L726.42,280.27 L726.98,282.90 L728.10,282.90 L728.66,285.53 L729.22,285.53 L729.78,288.16 L734.26,288.16 L734.82,285.53 L735.38,285.53 L735.94,282.90 L736.50,282.90 L737.06,285.53 L738.18,285.53 L738.74,288.16 L739.30,288.16 L739.86,290.80 L740.98,290.80 L741.54,293.43 L751.62,293.43 L752.18,296.06 L752.74,296.06 L753.30,293.43 L753.86,293.43 L754.98,288.16 L756.10,288.16 L756.66,285.53 L757.22,285.53 L757.78,282.90 L760.58,282.90 L761.14,280.27 L763.94,280.27 L764.50,282.90 L765.06,282.90 L765.62,280.27 L770.66,280.27 L771.22,282.90 L776.26,282.90 L776.82,285.53 L777.38,282.90 L777.94,282.90 L778.50,285.53 L786.34,285.53 L786.90,282.90 L787.46,285.53 L788.02,282.90 L788.58,282.90 L789.14,285.53 L791.94,285.53 L792.50,288.16 L796.98,288.16 L797.54,285.53 L798.10,288.16 L798.66,285.53 L799.78,285.53 L800.34,282.90 L800.90,285.53 L803.14,285.53 L803.70,288.16 L804.26,285.53 L805.94,285.53 L806.50,282.90 L807.06,285.53 L807.62,282.90 L810.98,282.90 L811.54,285.53 L812.10,285.53 L812.66,282.90 L813.78,288.16 L814.34,285.53 L818.26,285.53 L818.82,282.90 L819.38,285.53 L819.94,285.53 L820.50,282.90 L822.18,282.90 L822.74,285.53 L825.54,285.53 L826.10,282.90 L828.34,282.90 L828.90,285.53 L829.46,285.53 L830.02,288.16 L830.58,288.16 L831.14,285.53 L831.70,280.27 L836.74,280.27 L837.30,282.90 L837.86,282.90 L838.42,285.53 L838.98,282.90 L839.54,285.53 L840.10,282.90 L841.22,282.90 L841.78,280.27 L842.90,280.27 L843.46,277.64 L844.58,277.64 L845.14,280.27 L845.70,280.27 L846.26,282.90 L847.38,282.90 L847.94,285.53 L849.06,285.53 L849.62,288.16 L851.30,288.16 L851.86,290.80 L852.42,288.16 L852.98,290.80 L854.10,290.80 L854.66,293.43 L855.22,290.80 L855.78,293.43 L856.90,293.43 L857.46,296.06 L858.58,296.06 L859.14,298.69 L860.26,298.69 L860.82,301.32 L863.62,301.32 L864.18,303.96 L864.74,301.32 L865.30,301.32 L865.86,303.96 L868.66,303.96 L869.22,306.59 L869.78,306.59 L870.34,303.96 L871.46,303.96 L872.02,306.59 L872.58,303.96 L873.14,306.59 L873.70,303.96 L874.26,306.59 L874.82,303.96 L875.38,306.59 L883.22,306.59 L883.78,309.22 L884.34,306.59 L884.90,306.59 L885.46,309.22 L886.58,309.22 L887.14,306.59 L887.70,309.22 L891.62,309.22 L892.18,311.85 L892.74,309.22 L893.30,309.22 L893.86,311.85 L894.42,311.85 L894.98,309.22 L895.54,311.85 L896.10,309.22 L896.66,309.22 L897.22,311.85 L898.34,311.85 L898.90,309.22 L899.46,311.85 L903.38,311.85 L903.94,314.48 L904.50,314.48 L905.06,311.85 L905.62,314.48 L907.86,314.48 L908.42,317.12 L908.98,317.12 L909.54,314.48 L910.10,314.48 L910.66,317.12 L911.22,314.48 L911.78,317.12 L912.34,317.12 L912.90,314.48 L913.46,317.12 L919.06,317.12 L919.62,319.75 L920.18,317.12 L920.74,319.75 L929.14,319.75 L929.70,322.38 L930.26,319.75 L930.80,319.75" fill="none" stroke="#e69f00" stroke-width="2.0" stroke-linejoin="round" stroke-linecap="round"/>
<path d="M120.50,411.87 L930.80,411.87" fill="none" stroke="#f0e442" stroke-width="2.0" stroke-linejoin="round" stroke-linecap="round"/>
<path d="M120.50,356.60 L130.02,356.60 L130.58,359.23 L136.74,359.23 L137.30,356.60 L154.10,356.60 L154.66,359.23 L179.30,359.23 L179.86,361.86 L217.38,361.86 L217.94,364.49 L267.78,364.49 L268.34,367.12 L309.78,367.12 L310.34,369.76 L360.18,369.76 L360.74,372.39 L365.22,372.39 L365.78,369.76 L366.34,372.39 L366.90,369.76 L371.38,369.76 L371.94,367.12 L373.06,367.12 L373.62,364.49 L374.18,364.49 L374.74,367.12 L375.30,364.49 L376.98,364.49 L377.54,367.12 L381.46,367.12 L382.02,364.49 L396.58,364.49 L397.14,361.86 L398.26,351.33 L399.38,346.07 L399.94,346.07 L400.50,351.33 L401.62,356.60 L402.74,356.60 L403.30,359.23 L404.98,359.23 L405.54,356.60 L406.10,359.23 L410.02,359.23 L410.58,356.60 L411.14,359.23 L412.26,359.23 L412.82,361.86 L420.66,361.86 L421.22,359.23 L422.90,359.23 L423.46,361.86 L424.02,359.23 L426.26,359.23 L426.82,356.60 L427.38,351.33 L428.50,346.07 L432.98,346.07 L434.10,351.33 L434.66,351.33 L435.22,348.70 L435.78,348.70 L436.90,343.44 L438.02,343.44 L438.58,346.07 L455.94,346.07 L456.50,348.70 L471.06,348.70 L471.62,346.07 L477.22,346.07 L477.78,340.80 L478.34,338.17 L479.46,343.44 L480.02,343.44 L480.58,346.07 L481.14,346.07 L481.70,348.70 L490.10,348.70 L490.66,346.07 L492.90,346.07 L493.46,348.70 L494.02,346.07 L498.50,346.07 L499.06,343.44 L499.62,346.07 L500.18,346.07 L500.74,343.44 L501.30,346.07 L506.90,346.07 L507.46,343.44 L533.22,343.44 L533.78,346.07 L539.94,346.07 L540.50,343.44 L541.06,338.17 L541.62,335.54 L542.74,340.80 L543.86,340.80 L544.42,343.44 L545.54,338.17 L546.10,340.80 L546.66,338.17 L549.46,338.17 L550.58,332.91 L551.14,332.91 L552.82,340.80 L553.94,340.80 L554.50,343.44 L555.62,343.44 L556.18,346.07 L569.62,346.07 L570.18,348.70 L574.10,348.70 L575.78,340.80 L579.14,340.80 L579.70,343.44 L580.82,343.44 L581.38,346.07 L583.06,346.07 L583.62,343.44 L584.18,343.44 L584.74,340.80 L585.30,343.44 L590.90,343.44 L591.46,346.07 L592.02,343.44 L593.70,343.44 L595.38,327.64 L596.50,322.38 L597.06,322.38 L597.62,319.75 L598.18,319.75 L599.86,327.64 L600.42,327.64 L601.54,332.91 L602.66,332.91 L603.22,335.54 L604.34,335.54 L604.90,338.17 L606.02,338.17 L606.58,335.54 L607.14,338.17 L607.70,338.17 L608.26,335.54 L608.82,338.17 L620.02,338.17 L620.58,335.54 L621.14,330.28 L622.26,335.54 L623.38,335.54 L623.94,338.17 L624.50,335.54 L625.06,338.17 L625.62,338.17 L626.18,340.80 L628.98,340.80 L629.54,343.44 L634.58,343.44 L635.14,346.07 L644.66,346.07 L645.22,348.70 L646.90,348.70 L647.46,346.07 L650.82,346.07 L651.38,348.70 L651.94,348.70 L652.50,346.07 L653.06,348.70 L654.74,348.70 L655.30,346.07 L655.86,346.07 L656.42,348.70 L656.98,346.07 L659.22,346.07 L659.78,348.70 L660.34,346.07 L661.46,346.07 L662.02,348.70 L662.58,346.07 L664.26,346.07 L664.82,343.44 L665.38,343.44 L665.94,346.07 L666.50,346.07 L667.06,348.70 L667.62,346.07 L668.18,348.70 L670.98,348.70 L671.54,346.07 L672.10,348.70 L672.66,346.07 L674.90,346.07 L675.46,348.70 L677.14,348.70 L677.70,351.33 L678.26,351.33 L678.82,348.70 L679.38,351.33 L681.62,351.33 L682.18,348.70 L682.74,351.33 L683.86,351.33 L686.10,340.80 L687.22,340.80 L688.34,346.07 L688.90,346.07 L689.46,348.70 L691.14,348.70 L691.70,351.33 L696.18,351.33 L696.74,348.70 L698.42,348.70 L698.98,346.07 L699.54,348.70 L700.10,346.07 L700.66,346.07 L701.22,348.70 L701.78,348.70 L702.34,346.07 L702.90,348.70 L714.10,348.70 L714.66,351.33 L718.02,351.33 L718.58,353.96 L723.62,353.96 L724.18,351.33 L724.74,353.96 L730.34,353.96 L730.90,351.33 L731.46,353.96 L732.02,351.33 L732.58,351.33 L733.14,346.07 L733.70,343.44 L734.26,338.17 L734.82,338.17 L735.38,335.54 L735.94,335.54 L736.50,332.91 L737.06,332.91 L737.62,335.54 L738.18,340.80 L741.54,340.80 L742.10,343.44 L742.66,343.44 L743.22,346.07 L744.90,346.07 L745.46,348.70 L746.02,346.07 L746.58,346.07 L747.14,348.70 L749.38,348.70 L749.94,351.33 L750.50,348.70 L751.06,351.33 L751.62,348.70 L752.18,351.33 L752.74,348.70 L754.98,348.70 L755.54,346.07 L756.10,348.70 L756.66,346.07 L757.78,346.07 L758.34,348.70 L758.90,346.07 L759.46,348.70 L771.78,348.70 L772.34,346.07 L774.02,346.07 L774.58,343.44 L775.14,346.07 L775.70,346.07 L776.26,340.80 L776.82,332.91 L779.06,343.44 L779.62,340.80 L780.18,343.44 L785.78,343.44 L786.34,346.07 L786.90,343.44 L787.46,346.07 L794.18,346.07 L794.74,343.44 L799.78,343.44 L800.34,346.07 L800.90,343.44 L801.46,343.44 L802.02,346.07 L802.58,343.44 L803.14,346.07 L805.94,346.07 L806.50,348.70 L807.06,346.07 L807.62,348.70 L808.18,346.07 L808.74,348.70 L809.30,346.07 L809.86,346.07 L810.98,340.80 L812.10,340.80 L812.66,343.44 L815.46,343.44 L816.02,340.80 L817.70,340.80 L818.26,343.44 L818.82,340.80 L819.38,343.44 L819.94,343.44 L820.50,340.80 L821.06,343.44 L824.98,343.44 L825.54,340.80 L826.10,340.80 L826.66,338.17 L827.22,338.17 L827.78,340.80 L828.34,340.80 L829.46,346.07 L830.58,346.07 L831.14,348.70 L832.26,348.70 L832.82,346.07 L833.38,348.70 L833.94,346.07 L836.18,346.07 L836.74,343.44 L837.86,343.44 L838.42,340.80 L839.54,340.80 L840.10,343.44 L842.34,343.44 L842.90,346.07 L844.02,346.07 L844.58,348.70 L845.14,346.07 L845.70,346.07 L846.26,348.70 L846.82,346.07 L847.38,348.70 L848.50,348.70 L849.06,351.33 L860.82,351.33 L861.38,353.96 L895.54,353.96 L896.10,356.60 L930.80,356.60" fill="none" stroke="#0072b2" stroke-width="2.0" stroke-linejoin="round" stroke-linecap="round"/>
<path d="M120.50,409.24 L121.00,408.34 L121.50,409.24 L122.50,409.24 L123.00,408.34 L123.50,409.24 L125.00,409.24 L125.50,408.34 L126.00,409.24 L126.50,408.34 L127.00,409.24 L128.00,409.24 L128.50,408.34 L129.00,409.24 L132.50,409.24 L133.00,408.34 L133.50,409.24 L140.00,409.24 L140.50,408.34 L141.00,409.24 L148.50,409.24 L149.00,408.34 L149.50,409.24 L151.00,409.24 L151.50,408.34 L152.00,409.24 L152.50,408.34 L153.00,409.24 L154.00,409.24 L154.50,408.34 L155.00,409.24 L155.50,408.34 L156.00,409.24 L156.50,409.24 L157.00,408.34 L157.50,409.24 L158.50,409.24 L159.00,408.34 L159.50,408.34 L160.00,409.24 L164.50,409.24 L165.00,408.34 L165.50,409.24 L176.50,409.24 L177.00,408.34 L177.50,409.24 L183.00,409.24 L183.50,408.34 L184.00,409.24 L188.00,409.24 L188.50,406.60 L310.50,406.60 L311.00,409.24 L311.50,409.24 L312.00,406.60 L312.50,409.24 L316.00,409.24 L316.50,406.60 L323.00,406.60 L323.50,409.24 L324.00,406.60 L324.50,406.60 L325.00,409.24 L325.50,409.24 L326.00,406.60 L326.50,406.60 L327.00,409.24 L330.50,409.24 L331.00,406.60 L331.50,409.24 L332.50,409.24 L333.00,406.60 L356.50,406.60 L357.00,409.24 L357.50,406.60 L358.00,406.60 L358.50,409.24 L359.00,406.60 L385.00,406.60 L385.50,409.24 L386.00,409.24 L386.50,406.60 L423.00,406.60 L423.50,409.24 L425.00,409.24 L425.50,406.60 L431.50,406.60 L432.00,409.24 L433.00,409.24 L433.50,406.60 L438.50,406.60 L439.00,409.24 L442.50,409.24 L443.00,406.60 L443.50,409.24 L444.00,406.60 L444.50,409.24 L447.50,409.24 L448.00,406.60 L448.50,406.60 L449.00,409.24 L449.50,406.60 L456.00,406.60 L456.50,409.24 L457.00,406.60 L457.50,409.24 L460.50,409.24 L461.00,406.60 L461.50,409.24 L462.00,406.60 L462.50,409.24 L463.00,406.60 L472.50,406.60 L473.00,409.24 L473.50,406.60 L474.00,409.24 L474.50,406.60 L482.50,406.60 L483.00,409.24 L486.00,409.24 L486.50,406.60 L487.00,409.24 L487.50,406.60 L488.00,409.24 L491.50,409.24 L492.00,406.60 L492.50,409.24 L493.00,406.60 L493.50,409.24 L495.50,409.24 L496.00,406.60 L496.50,409.24 L503.00,409.24 L503.50,406.60 L504.00,409.24 L504.50,406.60 L505.00,409.24 L506.00,409.24 L506.50,406.60 L507.00,409.24 L515.00,409.24 L515.50,406.60 L516.00,409.24 L518.00,409.24 L518.50,406.60 L519.00,409.24 L519.50,406.60 L520.00,409.24 L520.50,406.60 L521.00,406.60 L521.50,409.24 L528.00,409.24 L528.50,406.60 L529.00,409.24 L536.50,409.24 L537.00,406.60 L537.50,409.24 L538.00,409.24 L538.50,406.60 L539.00,409.24 L541.50,409.24 L542.00,406.60 L542.50,409.24 L544.50,409.24 L545.00,406.60 L545.50,409.24 L546.00,409.24 L546.50,406.60 L547.00,409.24 L552.50,409.24 L553.00,406.60 L553.50,409.24 L555.50,409.24 L556.00,406.60 L556.50,406.60 L557.00,409.24 L560.50,409.24 L561.00,406.60 L561.50,409.24 L563.00,409.24 L563.50,406.60 L564.00,409.24 L573.50,409.24 L574.00,406.60 L574.50,409.24 L576.00,409.24 L576.50,406.60 L577.00,409.24 L578.00,409.24 L578.50,406.60 L579.50,406.60 L580.00,409.24 L585.50,409.24 L586.00,406.60 L586.50,409.24 L588.00,409.24 L588.50,406.60 L589.00,409.24 L589.50,409.24 L590.00,406.60 L590.50,409.24 L594.50,409.24 L595.00,406.60 L597.00,406.60 L597.50,409.24 L598.00,406.60 L598.50,406.60 L599.00,409.24 L601.50,409.24 L602.00,406.60 L602.50,406.60 L603.00,409.24 L604.00,409.24 L604.50,406.60 L605.00,409.24 L605.50,406.60 L606.50,406.60 L607.00,409.24 L608.50,409.24 L609.00,406.60 L609.50,409.24 L610.00,406.60 L610.50,409.24 L611.00,406.60 L611.50,409.24 L612.00,406.60 L613.50,406.60 L614.00,409.24 L616.00,409.24 L616.50,406.60 L617.00,409.24 L617.50,409.24 L618.00,406.60 L619.50,406.60 L620.00,409.24 L620.50,409.24 L621.00,406.60 L621.50,409.24 L623.50,409.24 L624.00,406.60 L624.50,409.24 L626.50,409.24 L627.00,406.60 L627.50,409.24 L629.50,409.24 L630.00,406.60 L630.50,409.24 L631.00,406.60 L635.00,406.60 L635.50,409.24 L636.00,409.24 L636.50,406.60 L637.50,406.60 L638.00,409.24 L660.00,409.24 L660.50,406.60 L661.00,406.60 L661.50,409.24 L662.00,409.24 L662.50,406.60 L663.00,409.24 L663.50,409.24 L664.00,406.60 L664.50,409.24 L665.50,409.24 L666.00,406.60 L666.50,409.24 L667.00,406.60 L667.50,406.60 L668.00,409.24 L671.00,409.24 L671.50,406.60 L672.00,406.60 L672.50,409.24 L673.00,409.24 L673.50,406.60 L675.50,406.60 L676.00,409.24 L676.50,406.60 L678.00,406.60 L678.50,409.24 L679.00,406.60 L679.50,409.24 L680.50,409.24 L681.00,406.60 L683.50,406.60 L684.00,409.24 L685.50,409.24 L686.00,406.60 L686.50,409.24 L687.00,409.24 L687.50,406.60 L688.00,409.24 L688.50,406.60 L689.00,406.60 L689.50,409.24 L691.00,409.24 L691.50,406.60 L692.00,409.24 L692.50,406.60 L693.50,406.60 L694.00,409.24 L694.50,406.60 L695.00,409.24 L697.50,409.24 L698.00,406.60 L698.50,406.60 L699.00,409.24 L705.50,409.24 L706.00,406.60 L707.50,406.60 L708.00,409.24 L710.00,409.24 L710.50,406.60 L711.00,409.24 L711.50,406.60 L712.00,409.24 L715.00,409.24 L715.50,406.60 L716.50,406.60 L717.00,409.24 L718.00,409.24 L718.50,406.60 L719.00,409.24 L719.50,406.60 L720.00,409.24 L720.50,406.60 L721.50,406.60 L722.00,409.24 L722.50,406.60 L723.00,409.24 L723.50,409.24 L724.00,406.60 L724.50,409.24 L725.00,406.60 L726.00,406.60 L726.50,409.24 L727.00,406.60 L727.50,409.24 L728.50,409.24 L729.00,406.60 L729.50,409.24 L735.50,409.24 L736.00,406.60 L736.50,406.60 L737.00,409.24 L737.50,406.60 L738.00,406.60 L738.50,409.24 L740.50,409.24 L741.00,406.60 L741.50,409.24 L743.00,409.24 L743.50,406.60 L744.00,406.60 L744.50,409.24 L745.00,409.24 L745.50,406.60 L746.00,409.24 L760.00,409.24 L760.50,406.60 L761.00,409.24 L767.50,409.24 L768.00,406.60 L768.50,409.24 L770.50,409.24 L771.00,406.60 L771.50,409.24 L779.00,409.24 L779.50,406.60 L780.00,409.24 L786.00,409.24 L786.50,406.60 L787.00,409.24 L800.50,409.24 L801.00,406.60 L801.50,406.60 L802.00,409.24 L804.50,409.24 L805.00,406.60 L805.50,409.24 L806.00,406.60 L806.50,406.60 L807.00,409.24 L808.00,409.24 L808.50,406.60 L809.00,409.24 L809.50,409.24 L810.00,406.60 L810.50,409.24 L811.00,409.24 L811.50,406.60 L812.00,409.24 L812.50,406.60 L813.50,406.60 L814.00,409.24 L815.00,409.24 L815.50,406.60 L816.00,406.60 L816.50,409.24 L817.00,406.60 L817.50,409.24 L819.50,409.24 L820.00,406.60 L820.50,409.24 L824.00,409.24 L824.50,406.60 L825.00,406.60 L825.50,409.24 L826.50,409.24 L827.00,406.60 L827.50,409.24 L828.00,409.24 L828.50,406.60 L829.50,406.60 L830.00,409.24 L830.50,406.60 L831.00,409.24 L834.00,409.24 L834.50,406.60 L835.50,406.60 L836.00,409.24 L836.50,406.60 L837.00,406.60 L837.50,409.24 L840.50,409.24 L841.00,406.60 L841.50,409.24 L848.50,409.24 L849.00,406.60 L849.50,409.24 L862.50,409.24 L863.00,406.60 L863.50,409.24 L865.00,409.24 L865.50,406.60 L866.00,409.24 L868.00,409.24 L868.50,406.60 L869.00,409.24 L871.00,409.24 L871.50,406.60 L873.00,406.60 L873.50,409.24 L874.50,409.24 L875.00,406.60 L877.50,406.60 L878.00,409.24 L878.50,406.60 L879.00,409.24 L879.50,409.24 L880.00,406.60 L880.50,409.24 L881.00,409.24 L881.50,406.60 L882.00,409.24 L886.00,409.24 L886.50,406.60 L887.00,409.24 L889.50,409.24 L890.00,406.60 L890.50,406.60 L891.00,409.24 L891.50,409.24 L892.00,406.60 L892.50,409.24 L893.00,406.60 L894.00,406.60 L894.50,409.24 L896.00,409.24 L896.50,406.60 L897.00,406.60 L897.50,409.24 L898.00,409.24 L898.50,406.60 L899.00,406.60 L899.50,409.24 L907.50,409.24 L908.00,406.60 L908.50,409.24 L930.50,409.24" fill="none" stroke="#e51e10" stroke-width="2.0" stroke-linejoin="round" stroke-linecap="round"/>
<path d="M120.50,406.60 L573.54,406.60 L575.78,385.55 L576.90,380.28 L577.46,380.28 L579.14,372.39 L579.70,372.39 L580.26,369.76 L585.86,369.76 L586.42,367.12 L586.98,361.86 L588.10,356.60 L589.22,356.60 L589.78,359.23 L591.46,359.23 L592.02,361.86 L594.82,361.86 L595.38,364.49 L597.62,364.49 L598.18,367.12 L599.30,367.12 L601.54,356.60 L602.66,356.60 L603.22,353.96 L614.42,353.96 L614.98,356.60 L623.38,356.60 L623.94,359.23 L630.10,359.23 L630.66,361.86 L639.06,361.86 L639.62,364.49 L648.58,364.49 L649.14,367.12 L659.78,367.12 L660.34,369.76 L673.78,369.76 L674.34,372.39 L689.46,372.39 L690.02,375.02 L710.18,375.02 L710.74,377.65 L730.90,377.65 L731.46,380.28 L758.34,380.28 L758.90,382.92 L796.98,382.92 L797.54,385.55 L840.66,385.55 L841.22,388.18 L908.98,388.18 L909.54,390.81 L930.80,390.81" fill="none" stroke="#000000" stroke-width="2.0" stroke-linejoin="round" stroke-linecap="round"/>
<path d="M120.50,325.01 L131.14,325.01 L131.70,322.38 L140.10,322.38 L140.66,319.75 L147.38,319.75 L147.94,317.12 L164.18,317.12 L164.74,319.75 L183.78,319.75 L184.34,322.38 L188.26,322.38 L188.82,325.01 L205.62,325.01 L206.18,322.38 L215.70,322.38 L216.26,319.75 L256.02,319.75 L256.58,322.38 L262.74,322.38 L263.30,325.01 L276.74,325.01 L277.30,322.38 L290.18,322.38 L290.74,319.75 L323.78,319.75 L324.34,322.38 L369.70,322.38 L370.26,325.01 L388.74,325.01 L389.30,322.38 L400.50,322.38 L401.06,319.75 L409.46,319.75 L410.02,317.12 L448.66,317.12 L449.22,319.75 L453.14,319.75 L453.70,322.38 L457.62,322.38 L458.18,325.01 L462.10,325.01 L462.66,322.38 L482.82,322.38 L483.38,319.75 L499.06,319.75 L499.62,317.12 L512.50,317.12 L513.06,314.48 L535.46,314.48 L536.02,317.12 L547.22,317.12 L547.78,319.75 L553.94,319.75 L554.50,322.38 L559.54,322.38 L560.10,319.75 L570.18,319.75 L570.74,317.12 L581.38,317.12 L581.94,314.48 L593.14,314.48 L593.70,311.85 L623.94,311.85 L624.50,314.48 L633.46,314.48 L634.02,317.12 L637.94,317.12 L638.50,319.75 L653.62,319.75 L654.18,317.12 L665.94,317.12 L666.50,314.48 L693.94,314.48 L694.50,311.85 L723.62,311.85 L724.18,314.48 L728.10,314.48 L728.66,317.12 L733.14,317.12 L733.70,319.75 L748.82,319.75 L749.38,317.12 L770.66,317.12 L771.22,314.48 L781.86,314.48 L782.42,311.85 L814.34,311.85 L814.90,314.48 L817.70,314.48 L818.26,317.12 L844.02,317.12 L844.58,314.48 L857.46,314.48 L858.02,311.85 L919.62,311.85 L920.18,314.48 L922.98,314.48 L923.54,317.12 L927.46,317.12 L928.02,319.75 L930.80,319.75" fill="none" stroke="#a0a0a0" stroke-width="1.15" stroke-linejoin="round" stroke-linecap="round"/>
</g>
<g>
<path d="M120.50,421.42 L121.06,422.03 L121.62,422.69 L122.18,421.34 L122.74,421.76 L123.30,421.45 L123.86,421.03 L124.42,420.66 L124.98,419.76 L125.54,419.78 L126.10,419.92 L126.66,420.46 L127.22,419.42 L127.78,418.79 L128.34,418.67 L128.90,419.87 L129.46,420.38 L130.02,420.46 L130.58,421.22 L131.14,421.17 L131.70,420.78 L132.26,421.01 L132.82,420.40 L133.38,420.42 L133.94,421.99 L134.50,421.02 L135.06,422.43 L135.62,421.68 L136.18,422.12 L136.74,422.24 L137.30,422.68 L137.86,423.17 L138.42,423.91 L138.98,424.13 L139.54,423.55 L140.10,423.05 L140.66,423.19 L141.22,422.68 L141.78,421.34 L142.34,421.10 L142.90,422.44 L143.46,422.76 L144.02,422.36 L144.58,422.70 L145.14,421.81 L145.70,422.59 L146.26,422.32 L146.82,422.01 L147.38,421.88 L147.94,422.57 L148.50,421.99 L149.06,422.17 L149.62,422.53 L150.18,421.01 L150.74,421.14 L151.30,421.33 L151.86,420.96 L152.42,422.27 L152.98,421.67 L153.54,422.96 L154.10,421.43 L154.66,421.72 L155.22,421.51 L155.78,421.94 L156.34,420.10 L156.90,421.74 L157.46,421.65 L158.02,421.06 L158.58,420.86 L159.14,420.53 L159.70,420.81 L160.26,420.28 L160.82,419.98 L161.38,420.74 L161.94,420.69 L162.50,420.85 L163.06,421.04 L163.62,419.92 L164.18,420.26 L164.74,419.55 L165.30,420.27 L165.86,420.86 L166.42,420.75 L166.98,421.46 L167.54,423.11 L168.10,421.82 L168.66,421.97 L169.22,422.03 L169.78,422.25 L170.34,421.09 L170.90,421.92 L171.46,421.09 L172.02,421.20 L172.58,421.36 L173.14,421.63 L173.70,423.82 L174.26,422.17 L174.82,422.11 L175.38,420.64 L175.94,421.29 L176.50,421.21 L177.06,422.18 L177.62,421.71 L178.18,421.84 L178.74,422.11 L179.30,422.67 L179.86,422.35 L180.42,422.04 L180.98,422.27 L181.54,422.20 L182.10,421.54 L182.66,420.42 L183.22,421.97 L183.78,420.75 L184.34,421.64 L184.90,421.74 L185.46,421.47 L186.02,421.90 L186.58,423.17 L187.14,422.02 L187.70,422.68 L188.26,422.80 L188.82,422.67 L189.38,422.59 L189.94,422.09 L190.50,421.75 L191.06,422.05 L191.62,422.43 L192.18,421.90 L192.74,421.79 L193.30,422.65 L193.86,422.92 L194.42,423.23 L194.98,423.11 L195.54,423.11 L196.10,422.27 L196.66,422.99 L197.22,423.46 L197.78,423.37 L198.34,422.86 L198.90,422.42 L199.46,422.62 L200.02,423.07 L200.58,421.45 L201.14,423.64 L201.70,422.55 L202.26,423.66 L202.82,423.88 L203.38,424.68 L203.94,425.18 L204.50,424.80 L205.06,425.45 L205.62,425.57 L206.18,425.90 L206.74,425.48 L207.30,425.91 L207.86,425.81 L208.42,426.19 L208.98,425.80 L209.54,426.78 L210.10,427.18 L210.66,426.81 L211.22,426.73 L211.78,426.62 L212.34,427.47 L212.90,427.09 L213.46,427.97 L214.02,428.45 L214.58,428.84 L215.14,429.38 L215.70,430.49 L216.26,430.88 L216.82,431.78 L217.38,431.61 L217.94,432.39 L218.50,432.36 L219.06,431.95 L219.62,432.26 L220.18,432.71 L220.74,432.41 L221.30,432.68 L221.86,431.58 L222.42,431.40 L222.98,430.47 L223.54,431.65 L224.10,431.90 L224.66,432.15 L225.22,431.83 L225.78,432.43 L226.34,433.26 L226.90,433.34 L227.46,432.66 L228.02,433.41 L228.58,433.37 L229.14,433.89 L229.70,434.22 L230.26,433.96 L230.82,435.80 L231.38,434.66 L231.94,434.92 L232.50,434.75 L233.06,435.04 L233.62,435.77 L234.18,436.13 L234.74,436.20 L235.30,436.94 L235.86,436.54 L236.42,437.09 L236.98,438.02 L237.54,437.56 L238.10,437.21 L238.66,437.78 L239.22,437.49 L239.78,437.46 L240.34,437.43 L240.90,436.74 L241.46,436.20 L242.02,437.42 L242.58,436.45 L243.14,436.40 L243.70,436.34 L244.26,436.84 L244.82,437.13 L245.38,436.41 L245.94,436.02 L246.50,436.12 L247.06,436.37 L247.62,436.73 L248.18,436.70 L248.74,437.54 L249.30,438.10 L249.86,437.85 L250.42,436.25 L250.98,436.82 L251.54,436.98 L252.10,436.83 L252.66,437.15 L253.22,437.02 L253.78,437.84 L254.34,438.23 L254.90,438.83 L255.46,438.55 L256.02,439.34 L256.58,439.30 L257.14,439.21 L257.70,439.88 L258.26,440.61 L258.82,440.61 L259.38,440.64 L259.94,438.67 L260.50,441.62 L261.06,441.99 L261.62,441.80 L262.18,442.22 L262.74,443.27 L263.30,443.68 L263.86,442.78 L264.42,442.88 L264.98,443.72 L265.54,443.32 L266.10,443.75 L266.66,444.26 L267.22,444.01 L267.78,445.20 L268.34,445.61 L268.90,444.97 L269.46,445.03 L270.02,444.66 L270.58,445.27 L271.14,445.04 L271.70,445.45 L272.26,445.77 L272.82,446.27 L273.38,446.87 L273.94,446.21 L274.50,446.77 L275.06,446.91 L275.62,446.52 L276.18,446.71 L276.74,446.52 L277.30,445.54 L277.86,446.50 L278.42,447.03 L278.98,447.74 L279.54,446.46 L280.10,446.36 L280.66,446.86 L281.22,447.70 L281.78,448.18 L282.34,448.71 L282.90,447.85 L283.46,447.38 L284.02,447.46 L284.58,447.75 L285.14,448.11 L285.70,447.84 L286.26,446.24 L286.82,446.46 L287.38,446.26 L287.94,447.11 L288.50,447.42 L289.06,447.41 L289.62,447.10 L290.18,446.74 L290.74,446.62 L291.30,446.39 L291.86,446.59 L292.42,447.70 L292.98,449.72 L293.54,447.18 L294.10,446.02 L294.66,446.92 L295.22,446.22 L295.78,446.35 L296.34,445.72 L296.90,446.63 L297.46,447.20 L298.02,447.03 L298.58,446.62 L299.14,447.06 L299.70,447.46 L300.26,446.97 L300.82,445.38 L301.38,446.71 L301.94,446.10 L302.50,445.87 L303.06,446.47 L303.62,448.22 L304.18,446.99 L304.74,446.82 L305.30,446.15 L305.86,447.32 L306.42,447.46 L306.98,447.48 L307.54,447.59 L308.10,447.44 L308.66,447.55 L309.22,447.25 L309.78,446.48 L310.34,446.17 L310.90,446.24 L311.46,445.70 L312.02,446.80 L312.58,446.28 L313.14,447.30 L313.70,447.07 L314.26,447.39 L314.82,446.71 L315.38,447.18 L315.94,446.88 L316.50,447.76 L317.06,448.29 L317.62,448.26 L318.18,448.60 L318.74,448.61 L319.30,448.41 L319.86,447.27 L320.42,446.94 L320.98,446.69 L321.54,446.55 L322.10,446.38 L322.66,446.97 L323.22,447.52 L323.78,448.31 L324.34,448.55 L324.90,448.29 L325.46,447.35 L326.02,448.45 L326.58,447.92 L327.14,448.61 L327.70,449.50 L328.26,449.71 L328.82,450.71 L329.38,451.09 L329.94,450.84 L330.50,450.67 L331.06,450.26 L331.62,450.60 L332.18,450.62 L332.74,450.95 L333.30,451.24 L333.86,451.35 L334.42,452.70 L334.98,452.11 L335.54,452.09 L336.10,452.08 L336.66,451.21 L337.22,450.89 L337.78,449.74 L338.34,450.13 L338.90,448.88 L339.46,451.06 L340.02,453.04 L340.58,451.53 L341.14,450.68 L341.70,450.99 L342.26,450.56 L342.82,451.49 L343.38,451.30 L343.94,450.45 L344.50,449.55 L345.06,448.40 L345.62,449.31 L346.18,448.54 L346.74,449.53 L347.30,450.32 L347.86,450.66 L348.42,450.15 L348.98,451.10 L349.54,451.20 L350.10,450.52 L350.66,450.95 L351.22,450.75 L351.78,450.76 L352.34,451.44 L352.90,452.36 L353.46,451.99 L354.02,452.42 L354.58,451.18 L355.14,451.73 L355.70,451.21 L356.26,451.24 L356.82,450.74 L357.38,451.48 L357.94,451.13 L358.50,450.07 L359.06,449.92 L359.62,450.63 L360.18,450.73 L360.74,450.86 L361.30,450.59 L361.86,451.78 L362.42,453.21 L362.98,452.79 L363.54,452.87 L364.10,453.13 L364.66,453.22 L365.22,453.11 L365.78,452.02 L366.34,451.88 L366.90,451.90 L367.46,451.82 L368.02,452.13 L368.58,452.14 L369.14,451.79 L369.70,451.64 L370.26,452.22 L370.82,452.79 L371.38,452.00 L371.94,451.09 L372.50,451.07 L373.06,450.70 L373.62,450.83 L374.18,450.68 L374.74,450.48 L375.30,450.65 L375.86,450.53 L376.42,451.31 L376.98,450.53 L377.54,451.52 L378.10,452.90 L378.66,451.67 L379.22,450.65 L379.78,451.62 L380.34,451.29 L380.90,451.17 L381.46,451.13 L382.02,450.58 L382.58,450.31 L383.14,450.97 L383.70,450.33 L384.26,450.24 L384.82,451.82 L385.38,451.87 L385.94,452.24 L386.50,452.68 L387.06,451.68 L387.62,453.22 L388.18,453.33 L388.74,453.18 L389.30,453.20 L389.86,453.70 L390.42,454.03 L390.98,455.15 L391.54,455.10 L392.10,456.11 L392.66,456.87 L393.22,456.08 L393.78,456.25 L394.34,456.69 L394.90,456.41 L395.46,457.24 L396.02,456.72 L396.58,457.10 L397.14,457.86 L397.70,457.78 L398.26,458.29 L398.82,458.44 L399.38,459.29 L399.94,459.37 L400.50,458.89 L401.06,459.07 L401.62,458.06 L402.18,458.72 L402.74,458.62 L403.30,459.41 L403.86,459.01 L404.42,458.57 L404.98,459.27 L405.54,460.25 L406.10,460.96 L406.66,462.63 L407.22,461.52 L407.78,460.84 L408.34,460.67 L408.90,461.45 L409.46,461.29 L410.02,462.01 L410.58,462.50 L411.14,463.40 L411.70,462.48 L412.26,463.49 L412.82,463.52 L413.38,464.04 L413.94,463.64 L414.50,464.09 L415.06,464.22 L415.62,464.14 L416.18,463.87 L416.74,465.05 L417.30,464.95 L417.86,464.94 L418.42,465.44 L418.98,465.37 L419.54,465.70 L420.10,465.61 L420.66,465.21 L421.22,465.28 L421.78,465.75 L422.34,464.84 L422.90,464.73 L423.46,465.41 L424.02,465.03 L424.58,464.96 L425.14,464.79 L425.70,465.56 L426.26,465.00 L426.82,464.90 L427.38,465.09 L427.94,464.45 L428.50,465.19 L429.06,465.30 L429.62,466.18 L430.18,466.06 L430.74,466.27 L431.30,465.99 L431.86,465.92 L432.42,465.50 L432.98,466.04 L433.54,466.87 L434.10,467.92 L434.66,467.75 L435.22,468.00 L435.78,468.36 L436.34,468.58 L436.90,468.17 L437.46,467.71 L438.02,467.96 L438.58,468.17 L439.14,468.98 L439.70,469.07 L440.26,469.31 L440.82,468.99 L441.38,469.55 L441.94,469.16 L442.50,469.46 L443.06,470.05 L443.62,470.45 L444.18,470.22 L444.74,470.70 L445.30,470.46 L445.86,470.30 L446.42,470.87 L446.98,470.97 L447.54,470.55 L448.10,469.38 L448.66,469.68 L449.22,469.75 L449.78,470.92 L450.34,470.84 L450.90,470.37 L451.46,470.58 L452.02,471.26 L452.58,472.01 L453.14,472.11 L453.70,471.92 L454.26,471.63 L454.82,472.16 L455.38,472.08 L455.94,472.38 L456.50,472.71 L457.06,472.80 L457.62,472.93 L458.18,473.21 L458.74,473.36 L459.30,474.04 L459.86,474.24 L460.42,474.76 L460.98,474.59 L461.54,474.90 L462.10,474.88 L462.66,475.85 L463.22,475.72 L463.78,476.05 L464.34,476.72 L464.90,477.08 L465.46,477.22 L466.02,476.96 L466.58,476.97 L467.14,477.08 L467.70,477.82 L468.26,478.50 L468.82,477.67 L469.38,477.47 L469.94,477.55 L470.50,478.17 L471.06,477.61 L471.62,478.94 L472.18,479.45 L472.74,479.73 L473.30,479.76 L473.86,480.99 L474.42,480.78 L474.98,480.44 L475.54,480.32 L476.10,480.38 L476.66,479.58 L477.22,480.94 L477.78,481.08 L478.34,480.82 L478.90,481.74 L479.46,482.91 L480.02,482.94 L480.58,483.03 L481.14,482.16 L481.70,482.83 L482.26,482.25 L482.82,482.82 L483.38,482.15 L483.94,482.82 L484.50,482.88 L485.06,483.26 L485.62,482.80 L486.18,481.49 L486.74,482.97 L487.30,483.54 L487.86,483.86 L488.42,483.53 L488.98,482.69 L489.54,482.30 L490.10,481.77 L490.66,482.12 L491.22,482.43 L491.78,482.25 L492.34,481.84 L492.90,481.92 L493.46,482.23 L494.02,482.37 L494.58,481.56 L495.14,482.32 L495.70,482.29 L496.26,482.37 L496.82,482.65 L497.38,482.10 L497.94,482.00 L498.50,482.77 L499.06,483.31 L499.62,483.60 L500.18,482.67 L500.74,483.17 L501.30,483.66 L501.86,484.46 L502.42,483.35 L502.98,483.09 L503.54,483.59 L504.10,483.69 L504.66,482.96 L505.22,483.04 L505.78,482.21 L506.34,482.60 L506.90,483.05 L507.46,483.62 L508.02,483.18 L508.58,484.09 L509.14,484.52 L509.70,482.62 L510.26,483.82 L510.82,484.71 L511.38,485.74 L511.94,485.56 L512.50,486.71 L513.06,487.01 L513.62,487.03 L514.18,486.77 L514.74,487.26 L515.30,488.10 L515.86,488.81 L516.42,489.21 L516.98,488.52 L517.54,488.60 L518.10,488.26 L518.66,487.92 L519.22,489.07 L519.78,488.65 L520.34,489.48 L520.90,490.22 L521.46,489.12 L522.02,488.70 L522.58,489.55 L523.14,489.46 L523.70,489.98 L524.26,489.69 L524.82,491.37 L525.38,490.29 L525.94,490.88 L526.50,490.91 L527.06,491.11 L527.62,491.66 L528.18,492.13 L528.74,491.90 L529.30,491.45 L529.86,491.63 L530.42,491.71 L530.98,493.02 L531.54,493.20 L532.10,493.14 L532.66,494.07 L533.22,495.12 L533.78,494.51 L534.34,494.24 L534.90,494.49 L535.46,494.14 L536.02,494.49 L536.58,495.50 L537.14,496.01 L537.70,496.23 L538.26,495.37 L538.82,494.61 L539.38,494.53 L539.94,494.56 L540.50,494.87 L541.06,495.29 L541.62,494.79 L542.18,494.85 L542.74,494.21 L543.30,494.74 L543.86,494.84 L544.42,495.24 L544.98,495.06 L545.54,495.53 L546.10,495.51 L546.66,497.40 L547.22,495.89 L547.78,496.26 L548.34,497.12 L548.90,498.53 L549.46,498.67 L550.02,499.15 L550.58,497.79 L551.14,497.52 L551.70,497.76 L552.26,497.77 L552.82,497.84 L553.38,497.34 L553.94,498.31 L554.50,498.27 L555.06,499.20 L555.62,499.48 L556.18,499.39 L556.74,497.95 L557.30,498.51 L557.86,498.65 L558.42,498.44 L558.98,499.04 L559.54,498.48 L560.10,499.75 L560.66,499.65 L561.22,499.63 L561.78,499.61 L562.34,499.36 L562.90,498.99 L563.46,499.60 L564.02,499.84 L564.58,500.07 L565.14,499.99 L565.70,501.23 L566.26,501.00 L566.82,501.20 L567.38,501.74 L567.94,502.38 L568.50,502.30 L569.06,503.01 L569.62,503.55 L570.18,503.64 L570.74,503.49 L571.30,503.83 L571.86,503.89 L572.42,505.06 L572.98,505.05 L573.54,504.16 L574.10,505.04 L574.66,505.49 L575.22,505.23 L575.78,505.53 L576.34,506.69 L576.90,506.22 L577.46,506.85 L578.02,506.44 L578.58,506.82 L579.14,507.11 L579.70,507.41 L580.26,507.59 L580.82,508.11 L581.38,507.56 L581.94,506.96 L582.50,507.37 L583.06,507.19 L583.62,506.45 L584.18,507.91 L584.74,508.09 L585.30,508.64 L585.86,508.15 L586.42,508.25 L586.98,508.34 L587.54,508.87 L588.10,509.00 L588.66,509.75 L589.22,509.02 L589.78,508.55 L590.34,509.28 L590.90,510.15 L591.46,509.21 L592.02,509.94 L592.58,510.05 L593.14,510.68 L593.70,511.64 L594.26,510.76 L594.82,511.63 L595.38,511.78 L595.94,511.75 L596.50,511.23 L597.06,511.92 L597.62,512.85 L598.18,512.56 L598.74,512.73 L599.30,512.01 L599.86,512.20 L600.42,511.25 L600.98,513.11 L601.54,514.02 L602.10,514.62 L602.66,514.16 L603.22,514.80 L603.78,515.65 L604.34,515.53 L604.90,514.97 L605.46,515.32 L606.02,516.24 L606.58,515.87 L607.14,516.26 L607.70,515.79 L608.26,516.41 L608.82,516.06 L609.38,516.19 L609.94,516.39 L610.50,516.15 L611.06,516.74 L611.62,516.24 L612.18,516.09 L612.74,516.43 L613.30,516.30 L613.86,516.07 L614.42,515.53 L614.98,515.74 L615.54,516.54 L616.10,516.98 L616.66,517.07 L617.22,517.32 L617.78,517.39 L618.34,517.80 L618.90,517.37 L619.46,518.07 L620.02,518.99 L620.58,520.02 L621.14,522.26 L621.70,521.00 L622.26,520.52 L622.82,520.55 L623.38,520.29 L623.94,521.04 L624.50,520.62 L625.06,520.76 L625.62,520.88 L626.18,520.71 L626.74,520.67 L627.30,521.00 L627.86,520.94 L628.42,518.87 L628.98,521.50 L629.54,522.01 L630.10,522.53 L630.66,523.19 L631.22,523.99 L631.78,524.01 L632.34,524.44 L632.90,525.45 L633.46,526.17 L634.02,526.24 L634.58,526.32 L635.14,526.00 L635.70,525.54 L636.26,526.46 L636.82,526.81 L637.38,527.86 L637.94,528.96 L638.50,529.33 L639.06,529.24 L639.62,529.57 L640.18,530.04 L640.74,530.30 L641.30,531.18 L641.86,530.61 L642.42,530.88 L642.98,529.54 L643.54,530.90 L644.10,531.51 L644.66,531.58 L645.22,531.72 L645.78,532.86 L646.34,532.92 L646.90,534.18 L647.46,534.58 L648.02,534.29 L648.58,535.29 L649.14,535.61 L649.70,535.63 L650.26,536.11 L650.82,535.28 L651.38,535.42 L651.94,535.31 L652.50,536.15 L653.06,535.86 L653.62,536.05 L654.18,537.83 L654.74,537.62 L655.30,536.14 L655.86,536.36 L656.42,536.81 L656.98,536.81 L657.54,536.40 L658.10,536.34 L658.66,536.29 L659.22,536.63 L659.78,537.43 L660.34,537.96 L660.90,537.50 L661.46,537.35 L662.02,536.56 L662.58,536.47 L663.14,536.71 L663.70,537.48 L664.26,536.98 L664.82,535.55 L665.38,536.65 L665.94,537.46 L666.50,537.64 L667.06,537.95 L667.62,538.63 L668.18,539.44 L668.74,539.71 L669.30,539.87 L669.86,540.33 L670.42,539.78 L670.98,540.48 L671.54,540.02 L672.10,540.53 L672.66,541.19 L673.22,540.76 L673.78,540.88 L674.34,541.13 L674.90,541.12 L675.46,540.95 L676.02,541.21 L676.58,541.44 L677.14,542.35 L677.70,540.77 L678.26,542.95 L678.82,543.09 L679.38,543.42 L679.94,543.42 L680.50,545.12 L681.06,544.95 L681.62,545.33 L682.18,546.97 L682.74,546.07 L683.30,546.00 L683.86,546.73 L684.42,547.02 L684.98,547.49 L685.54,547.01 L686.10,548.30 L686.66,548.37 L687.22,548.65 L687.78,548.53 L688.34,548.61 L688.90,548.49 L689.46,548.90 L690.02,548.71 L690.58,548.42 L691.14,548.58 L691.70,547.92 L692.26,548.63 L692.82,549.25 L693.38,549.15 L693.94,549.17 L694.50,549.87 L695.06,549.67 L695.62,550.16 L696.18,550.54 L696.74,550.47 L697.30,550.05 L697.86,550.29 L698.42,551.03 L698.98,550.18 L699.54,550.84 L700.10,550.88 L700.66,551.44 L701.22,550.99 L701.78,551.52 L702.34,552.06 L702.90,552.10 L703.46,551.96 L704.02,552.98 L704.58,554.56 L705.14,552.51 L705.70,553.10 L706.26,552.14 L706.82,552.03 L707.38,552.28 L707.94,551.90 L708.50,552.52 L709.06,553.46 L709.62,554.54 L710.18,554.28 L710.74,554.01 L711.30,554.17 L711.86,553.92 L712.42,555.16 L712.98,555.31 L713.54,555.70 L714.10,555.05 L714.66,555.02 L715.22,554.94 L715.78,555.48 L716.34,554.64 L716.90,555.41 L717.46,555.75 L718.02,556.78 L718.58,555.68 L719.14,556.10 L719.70,556.33 L720.26,556.17 L720.82,556.97 L721.38,556.56 L721.94,556.58 L722.50,557.04 L723.06,556.89 L723.62,556.91 L724.18,556.66 L724.74,557.96 L725.30,558.53 L725.86,558.24 L726.42,559.39 L726.98,557.57 L727.54,557.58 L728.10,557.20 L728.66,557.30 L729.22,557.89 L729.78,557.92 L730.34,557.47 L730.90,558.51 L731.46,557.41 L732.02,558.86 L732.58,560.18 L733.14,559.98 L733.70,560.12 L734.26,560.78 L734.82,561.21 L735.38,560.88 L735.94,561.11 L736.50,561.53 L737.06,563.11 L737.62,562.16 L738.18,563.52 L738.74,562.11 L739.30,562.85 L739.86,562.43 L740.42,562.85 L740.98,563.13 L741.54,562.66 L742.10,563.06 L742.66,563.50 L743.22,562.66 L743.78,562.93 L744.34,564.01 L744.90,563.23 L745.46,562.87 L746.02,564.42 L746.58,564.11 L747.14,563.62 L747.70,564.46 L748.26,563.86 L748.82,563.23 L749.38,563.24 L749.94,563.79 L750.50,563.60 L751.06,563.42 L751.62,563.46 L752.18,563.52 L752.74,563.36 L753.30,563.97 L753.86,564.14 L754.42,564.50 L754.98,565.18 L755.54,565.34 L756.10,565.37 L756.66,564.90 L757.22,565.68 L757.78,566.77 L758.34,566.70 L758.90,566.92 L759.46,566.88 L760.02,565.72 L760.58,564.74 L761.14,566.52 L761.70,567.18 L762.26,566.69 L762.82,566.53 L763.38,565.98 L763.94,566.86 L764.50,566.38 L765.06,565.56 L765.62,566.28 L766.18,568.13 L766.74,567.65 L767.30,566.81 L767.86,567.23 L768.42,566.11 L768.98,566.04 L769.54,566.45 L770.10,567.05 L770.66,568.26 L771.22,566.52 L771.78,567.69 L772.34,568.10 L772.90,567.39 L773.46,567.51 L774.02,569.11 L774.58,567.28 L775.14,568.69 L775.70,569.51 L776.26,569.09 L776.82,568.86 L777.38,569.52 L777.94,569.80 L778.50,570.39 L779.06,570.40 L779.62,571.85 L780.18,572.53 L780.74,573.24 L781.30,573.29 L781.86,573.66 L782.42,574.14 L782.98,575.54 L783.54,575.55 L784.10,575.99 L784.66,575.91 L785.22,576.02 L785.78,575.03 L786.34,574.98 L786.90,574.10 L787.46,573.66 L788.02,573.58 L788.58,573.87 L789.14,573.74 L789.70,574.80 L790.26,574.77 L790.82,574.84 L791.38,575.08 L791.94,575.45 L792.50,575.04 L793.06,575.42 L793.62,575.21 L794.18,575.38 L794.74,575.24 L795.30,575.63 L795.86,576.18 L796.42,575.72 L796.98,575.98 L797.54,575.57 L798.10,574.71 L798.66,576.40 L799.22,575.17 L799.78,574.83 L800.34,575.56 L800.90,575.19 L801.46,575.98 L802.02,574.55 L802.58,573.57 L803.14,573.44 L803.70,573.33 L804.26,574.64 L804.82,575.24 L805.38,575.46 L805.94,576.33 L806.50,576.09 L807.06,575.59 L807.62,576.00 L808.18,576.46 L808.74,577.54 L809.30,577.76 L809.86,577.76 L810.42,577.38 L810.98,575.08 L811.54,577.28 L812.10,576.58 L812.66,576.55 L813.22,576.68 L813.78,576.56 L814.34,577.24 L814.90,577.39 L815.46,576.81 L816.02,577.03 L816.58,577.38 L817.14,578.05 L817.70,578.27 L818.26,578.71 L818.82,578.59 L819.38,577.84 L819.94,578.65 L820.50,578.76 L821.06,578.33 L821.62,579.16 L822.18,578.98 L822.74,579.85 L823.30,579.28 L823.86,579.09 L824.42,579.92 L824.98,579.64 L825.54,580.31 L826.10,579.36 L826.66,579.32 L827.22,578.54 L827.78,577.97 L828.34,577.83 L828.90,578.40 L829.46,579.05 L830.02,579.94 L830.58,579.52 L831.14,579.92 L831.70,581.41 L832.26,581.08 L832.82,581.19 L833.38,580.98 L833.94,581.46 L834.50,581.10 L835.06,582.17 L835.62,580.73 L836.18,580.36 L836.74,580.32 L837.30,579.81 L837.86,581.19 L838.42,581.77 L838.98,581.30 L839.54,581.64 L840.10,579.84 L840.66,581.48 L841.22,581.40 L841.78,581.15 L842.34,580.98 L842.90,581.50 L843.46,581.77 L844.02,581.69 L844.58,580.63 L845.14,580.87 L845.70,580.36 L846.26,580.62 L846.82,580.11 L847.38,580.38 L847.94,580.18 L848.50,579.97 L849.06,580.24 L849.62,580.53 L850.18,580.65 L850.74,580.64 L851.30,580.04 L851.86,581.02 L852.42,579.98 L852.98,581.14 L853.54,581.77 L854.10,581.66 L854.66,582.33 L855.22,583.28 L855.78,582.43 L856.34,582.21 L856.90,581.35 L857.46,581.57 L858.02,580.97 L858.58,582.07 L859.14,582.43 L859.70,582.91 L860.26,583.19 L860.82,582.64 L861.38,583.34 L861.94,583.27 L862.50,582.07 L863.06,582.83 L863.62,582.40 L864.18,582.12 L864.74,582.59 L865.30,582.53 L865.86,582.49 L866.42,582.61 L866.98,582.20 L867.54,582.69 L868.10,582.51 L868.66,582.74 L869.22,583.20 L869.78,583.26 L870.34,582.86 L870.90,582.53 L871.46,582.40 L872.02,583.83 L872.58,584.04 L873.14,584.10 L873.70,583.74 L874.26,584.21 L874.82,583.36 L875.38,582.64 L875.94,583.31 L876.50,582.42 L877.06,582.82 L877.62,581.93 L878.18,581.73 L878.74,581.42 L879.30,581.51 L879.86,581.82 L880.42,582.09 L880.98,581.57 L881.54,581.34 L882.10,581.49 L882.66,582.02 L883.22,581.88 L883.78,581.82 L884.34,581.86 L884.90,582.18 L885.46,582.66 L886.02,582.03 L886.58,581.57 L887.14,581.64 L887.70,581.69 L888.26,581.87 L888.82,580.80 L889.38,580.45 L889.94,580.58 L890.50,581.52 L891.06,581.47 L891.62,582.01 L892.18,581.63 L892.74,581.26 L893.30,581.67 L893.86,581.77 L894.42,581.51 L894.98,581.01 L895.54,580.93 L896.10,581.78 L896.66,581.58 L897.22,582.31 L897.78,581.59 L898.34,581.23 L898.90,581.04 L899.46,580.78 L900.02,580.61 L900.58,580.01 L901.14,580.23 L901.70,580.87 L902.26,580.36 L902.82,580.99 L903.38,580.84 L903.94,580.84 L904.50,580.53 L905.06,580.30 L905.62,580.51 L906.18,579.37 L906.74,579.63 L907.30,580.54 L907.86,580.17 L908.42,579.48 L908.98,580.43 L909.54,580.57 L910.10,580.98 L910.66,580.65 L911.22,580.20 L911.78,579.52 L912.34,580.17 L912.90,580.15 L913.46,579.11 L914.02,578.40 L914.58,578.51 L915.14,578.35 L915.70,579.76 L916.26,579.26 L916.82,578.81 L917.38,577.99 L917.94,578.04 L918.50,578.51 L919.06,579.28 L919.62,579.77 L920.18,580.09 L920.74,578.92 L921.30,578.85 L921.86,579.02 L922.42,578.20 L922.98,578.25 L923.54,579.07 L924.10,577.65 L924.66,578.52 L925.22,578.09 L925.78,577.51 L926.34,577.88 L926.90,577.26 L927.46,577.31 L928.02,577.20 L928.58,577.05 L929.14,577.31 L929.70,577.31 L930.26,577.01 L930.80,577.00" fill="none" stroke="#a0a0a0" stroke-width="1.15" stroke-linejoin="round" stroke-linecap="round"/>
</g>
<g shape-rendering="crispEdges" stroke="#000" stroke-width="1" fill="none">
<rect x="120.5" y="45.5" width="812.0" height="185.0"/>
<rect x="120.5" y="230.5" width="812.0" height="184.0"/>
<rect x="120.5" y="414.5" width="812.0" height="185.0"/>
</g>
<g font-family="Liberation Sans, sans-serif" font-size="16" fill="#000">
<text x="111.5" y="236.70" text-anchor="end">70.00</text>
<text x="111.5" y="205.87" text-anchor="end">72.00</text>
<text x="111.5" y="175.03" text-anchor="end">74.00</text>
<text x="111.5" y="144.20" text-anchor="end">76.00</text>
<text x="111.5" y="113.37" text-anchor="end">78.00</text>
<text x="111.5" y="82.53" text-anchor="end">80.00</text>
<text x="111.5" y="51.70" text-anchor="end">82.00</text>
<text x="111.5" y="420.70" text-anchor="end">0.00</text>
<text x="111.5" y="394.38" text-anchor="end">10.00</text>
<text x="111.5" y="368.06" text-anchor="end">20.00</text>
<text x="111.5" y="341.74" text-anchor="end">30.00</text>
<text x="111.5" y="315.42" text-anchor="end">40.00</text>
<text x="111.5" y="289.10" text-anchor="end">50.00</text>
<text x="111.5" y="262.78" text-anchor="end">60.00</text>
<text x="111.5" y="236.46" text-anchor="end">70.00</text>
<text x="111.5" y="605.70" text-anchor="end">29.40</text>
<text x="111.5" y="582.57" text-anchor="end">29.50</text>
<text x="111.5" y="559.45" text-anchor="end">29.60</text>
<text x="111.5" y="536.33" text-anchor="end">29.70</text>
<text x="111.5" y="513.20" text-anchor="end">29.80</text>
<text x="111.5" y="490.08" text-anchor="end">29.90</text>
<text x="111.5" y="466.95" text-anchor="end">30.00</text>
<text x="111.5" y="443.83" text-anchor="end">30.10</text>
<text x="111.5" y="420.70" text-anchor="end">30.20</text>
<text x="120.50" y="628.0" text-anchor="middle">00</text>
<text x="154.33" y="628.0" text-anchor="middle">01</text>
<text x="188.17" y="628.0" text-anchor="middle">02</text>
<text x="222.00" y="628.0" text-anchor="middle">03</text>
<text x="255.83" y="628.0" text-anchor="middle">04</text>
<text x="289.67" y="628.0" text-anchor="middle">05</text>
<text x="323.50" y="628.0" text-anchor="middle">06</text>
<text x="357.33" y="628.0" text-anchor="middle">07</text>
<text x="391.17" y="628.0" text-anchor="middle">08</text>
<text x="425.00" y="628.0" text-anchor="middle">09</text>
<text x="458.83" y="628.0" text-anchor="middle">10</text>
<text x="492.67" y="628.0" text-anchor="middle">11</text>
<text x="526.50" y="628.0" text-anchor="middle">12</text>
<text x="560.33" y="628.0" text-anchor="middle">13</text>
<text x="594.17" y="628.0" text-anchor="middle">14</text>
<text x="628.00" y="628.0" text-anchor="middle">15</text>
<text x="661.83" y="628.0" text-anchor="middle">16</text>
<text x="695.67" y="628.0" text-anchor="middle">17</text>
<text x="729.50" y="628.0" text-anchor="middle">18</text>
<text x="763.33" y="628.0" text-anchor="middle">19</text>
<text x="797.17" y="628.0" text-anchor="middle">20</text>
<text x="831.00" y="628.0" text-anchor="middle">21</text>
<text x="864.83" y="628.0" text-anchor="middle">22</text>
<text x="898.67" y="628.0" text-anchor="middle">23</text>
<text x="932.50" y="628.0" text-anchor="middle">00</text>
<text x="526.5" y="18.7" text-anchor="middle" textLength="414" lengthAdjust="spacing">Science Center L Wing environment status (2025-12-02)</text>
<text x="526.7" y="660.3" text-anchor="middle" textLength="64.5" lengthAdjust="spacing">time (hr)</text>
<text transform="translate(35.2,137.8) rotate(-90)" text-anchor="middle" textLength="94.5" lengthAdjust="spacing">temperature</text>
<text transform="translate(56.6,138.9) rotate(-90)" text-anchor="middle" textLength="53.3" lengthAdjust="spacing">(deg F)</text>
<text transform="translate(35.2,322.2) rotate(-90)" text-anchor="middle" textLength="127.0" lengthAdjust="spacing">relative humidity</text>
<text transform="translate(56.6,324.3) rotate(-90)" text-anchor="middle" textLength="35.8" lengthAdjust="spacing">(pct)</text>
<text transform="translate(35.2,507.0) rotate(-90)" text-anchor="middle" textLength="154.0" lengthAdjust="spacing">barometric pressure</text>
<text transform="translate(56.6,508.5) rotate(-90)" text-anchor="middle" textLength="51.4" lengthAdjust="spacing">(in Hg)</text>
<text x="261.5" y="684.2" text-anchor="end" textLength="60.4" lengthAdjust="spacing">enviro-1</text>
<text x="261.5" y="705.6" text-anchor="end" textLength="60.4" lengthAdjust="spacing">enviro-2</text>
<text x="396.4" y="684.2" text-anchor="end" textLength="60.4" lengthAdjust="spacing">enviro-3</text>
<text x="396.4" y="705.6" text-anchor="end" textLength="60.4" lengthAdjust="spacing">enviro-4</text>
<text x="531.3" y="684.2" text-anchor="end" textLength="60.4" lengthAdjust="spacing">enviro-5</text>
<text x="531.3" y="705.6" text-anchor="end" textLength="60.4" lengthAdjust="spacing">enviro-6</text>
<text x="666.2" y="684.2" text-anchor="end" textLength="60.4" lengthAdjust="spacing">enviro-7</text>
<text x="666.2" y="705.6" text-anchor="end" textLength="60.4" lengthAdjust="spacing">enviro-8</text>
<text x="800.3" y="684.2" text-anchor="end" textLength="49.6" lengthAdjust="spacing">indoor</text>
</g>
<line x1="270.4" y1="678.3" x2="315.1" y2="678.3" stroke="#9400d3" stroke-width="2"/>
<line x1="270.4" y1="699.6" x2="315.1" y2="699.6" stroke="#009e73" stroke-width="2"/>
<line x1="405.3" y1="678.3" x2="450.0" y2="678.3" stroke="#56b4e9" stroke-width="2"/>
<line x1="405.3" y1="699.6" x2="450.0" y2="699.6" stroke="#e69f00" stroke-width="2"/>
<line x1="540.2" y1="678.3" x2="584.9" y2="678.3" stroke="#f0e442" stroke-width="2"/>
<line x1="540.2" y1="699.6" x2="584.9" y2="699.6" stroke="#0072b2" stroke-width="2"/>
<line x1="675.1" y1="678.3" x2="719.8" y2="678.3" stroke="#e51e10" stroke-width="2"/>
<line x1="675.1" y1="699.6" x2="719.8" y2="699.6" stroke="#000000" stroke-width="2"/>
<line x1="809.5" y1="678.5" x2="854.5" y2="678.5" stroke="#a0a0a0" stroke-width="1" shape-rendering="crispEdges"/>
</svg>
</body></html>
